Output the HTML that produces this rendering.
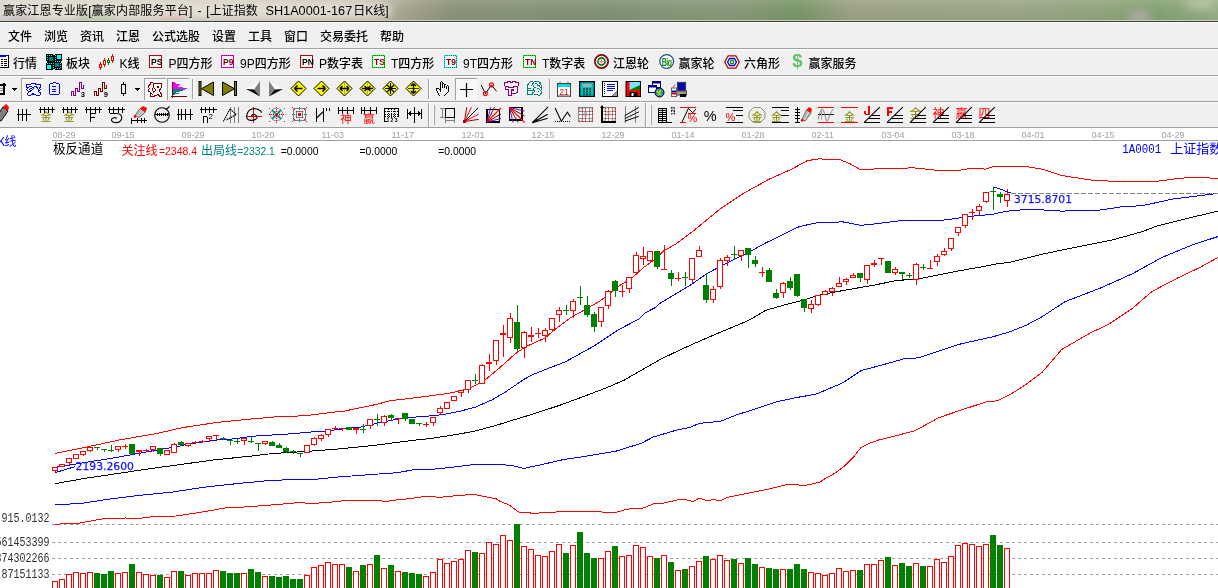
<!DOCTYPE html><html><head><meta charset="utf-8"><title>赢家江恩专业版</title><style>
*{margin:0;padding:0}html,body{width:1218px;height:588px;overflow:hidden;background:#fff}
svg{position:absolute;left:0;top:0;display:block}
text{font-family:"Liberation Sans","Noto Sans CJK SC",sans-serif;font-size:12px}
.ui{font-family:"Liberation Sans","Noto Sans CJK SC",sans-serif;font-size:12px;fill:#000;font-weight:500}
.ss{font-family:"Liberation Mono","Noto Sans CJK SC",monospace;font-size:12px}
.hn{font-family:"Liberation Sans",sans-serif;font-size:11.5px}
.dt{font-family:"Liberation Sans",sans-serif;font-size:9px;fill:#a0a0a0}
</style></head><body>
<svg width="1218" height="588" viewBox="0 0 1218 588">
<defs><linearGradient id="tg" x1="0" y1="0" x2="1218" y2="0" gradientUnits="userSpaceOnUse"><stop offset="0" stop-color="#dbd5c9"/><stop offset="0.2" stop-color="#d6cfc1"/><stop offset="0.3" stop-color="#cbc4b3"/><stop offset="0.335" stop-color="#a8a591"/><stop offset="0.37" stop-color="#8d957c"/><stop offset="0.5" stop-color="#829378"/><stop offset="0.56" stop-color="#869a7a"/><stop offset="0.6" stop-color="#8a9a7c"/><stop offset="0.655" stop-color="#7a9868"/><stop offset="0.7" stop-color="#9ea488"/><stop offset="0.83" stop-color="#9da88a"/><stop offset="0.9" stop-color="#93a880"/><stop offset="0.95" stop-color="#86a474"/><stop offset="1" stop-color="#98b088"/></linearGradient><linearGradient id="tv" x1="0" y1="0" x2="0" y2="20" gradientUnits="userSpaceOnUse"><stop offset="0" stop-color="#fff" stop-opacity="0.10"/><stop offset="1" stop-color="#000" stop-opacity="0.04"/></linearGradient><filter id="glow" x="-10%" y="-50%" width="120%" height="200%"><feGaussianBlur stdDeviation="3"/></filter><filter id="blob" x="-50%" y="-50%" width="200%" height="200%"><feGaussianBlur stdDeviation="4"/></filter></defs>
<rect x="0" y="0" width="1218" height="20" fill="url(#tg)"/>
<rect x="0" y="0" width="1218" height="20" fill="url(#tv)"/>
<rect x="0" y="3" width="392" height="15" rx="7" fill="#efebe3" opacity="0.6" filter="url(#glow)"/>
<g filter="url(#blob)" opacity="0.55"><ellipse cx="20" cy="19" rx="14" ry="3" fill="#a090c0"/><ellipse cx="95" cy="19" rx="22" ry="3" fill="#70b070"/><ellipse cx="172" cy="19" rx="14" ry="3" fill="#e09090"/><ellipse cx="1140" cy="17" rx="12" ry="5" fill="#e0b8e0"/><ellipse cx="1200" cy="4" rx="16" ry="5" fill="#d0dcc0"/></g>
<rect x="0" y="20" width="1218" height="1" fill="#c6d0bc"/>
<rect x="0" y="21" width="1218" height="1" fill="#3c4438"/>
<rect x="0" y="22" width="1218" height="1" fill="#ffffff"/>
<text class="ui" y="15" fill="#000" style="font-weight:400"><tspan x="3" textLength="189.4" lengthAdjust="spacing">赢家江恩专业版[赢家内部服务平台]</tspan><tspan x="197.4">-</tspan><tspan x="206.3">[上证指数</tspan><tspan x="265.5" textLength="86.7" lengthAdjust="spacingAndGlyphs">SH1A0001-167</tspan><tspan x="353.2">日K线]</tspan></text>
<rect x="0" y="23" width="1218" height="105" fill="#f0f0f0"/>
<rect x="0" y="48" width="1218" height="1" fill="#a0a0a0"/>
<rect x="0" y="75" width="1218" height="1" fill="#a0a0a0"/>
<rect x="0" y="101" width="1218" height="1" fill="#a0a0a0"/>
<rect x="0" y="127" width="1218" height="1" fill="#a0a0a0"/>
<rect x="0" y="49" width="1218" height="1" fill="#ffffff"/>
<rect x="0" y="76" width="1218" height="1" fill="#ffffff"/>
<rect x="0" y="102" width="1218" height="1" fill="#ffffff"/>
<text class="ui" x="8" y="40.6">文件</text>
<text class="ui" x="44" y="40.6">浏览</text>
<text class="ui" x="80" y="40.6">资讯</text>
<text class="ui" x="116" y="40.6">江恩</text>
<text class="ui" x="152" y="40.6">公式选股</text>
<text class="ui" x="212" y="40.6">设置</text>
<text class="ui" x="248" y="40.6">工具</text>
<text class="ui" x="284" y="40.6">窗口</text>
<text class="ui" x="320" y="40.6">交易委托</text>
<text class="ui" x="380" y="40.6">帮助</text>
<text class="ui" x="13" y="67.8">行情</text>
<text class="ui" x="66" y="67.8">板块</text>
<text class="ui" x="119.5" y="67.8">K线</text>
<text class="ui" x="168.5" y="67.8">P四方形</text>
<text class="ui" x="240" y="67.8">9P四方形</text>
<text class="ui" x="319" y="67.8">P数字表</text>
<text class="ui" x="391" y="67.8">T四方形</text>
<text class="ui" x="463" y="67.8">9T四方形</text>
<text class="ui" x="542" y="67.8">T数字表</text>
<text class="ui" x="613" y="67.8">江恩轮</text>
<text class="ui" x="678.5" y="67.8">赢家轮</text>
<text class="ui" x="744" y="67.8">六角形</text>
<text class="ui" x="808.5" y="67.8">赢家服务</text>
<g shape-rendering="crispEdges"><rect x="-8" y="55" width="16" height="13" fill="#fff"/><rect x="-8" y="55" width="16" height="2" fill="#0000ff"/><rect x="6" y="56" width="2" height="1" fill="#fff"/><rect x="8" y="55" width="1" height="13" fill="#000"/><rect x="-8" y="67" width="17" height="1" fill="#000"/><rect x="1" y="59" width="2" height="1" fill="#000"/><rect x="4" y="59" width="3" height="1" fill="#000"/><rect x="1" y="61" width="2" height="1" fill="#000"/><rect x="4" y="61" width="3" height="1" fill="#000"/><rect x="1" y="63" width="2" height="1" fill="#000"/><rect x="4" y="63" width="3" height="1" fill="#000"/><rect x="1" y="65" width="2" height="1" fill="#000"/><rect x="4" y="65" width="3" height="1" fill="#000"/></g><g transform="translate(46,54)" shape-rendering="crispEdges"><rect x="0" y="0" width="16" height="16" fill="#000"/><rect x="7" y="0" width="2" height="1" fill="#f0f0f0"/><rect x="7" y="15" width="2" height="1" fill="#f0f0f0"/><rect x="0" y="7" width="1" height="2" fill="#f0f0f0"/><rect x="15" y="7" width="1" height="2" fill="#f0f0f0"/><path d="M1 1.5h6M1.5 1v6M9.5 1v7M9 7.5h6M1 9.5h7M7.5 9v6M14.5 9v6M9 14.5h6" stroke="#00ffff" stroke-width="1" stroke-dasharray="1 1" fill="none"/><rect x="3" y="3" width="4" height="4" fill="#008080"/><rect x="11" y="1" width="4" height="4" fill="#00ffff"/><rect x="1" y="11" width="4" height="4" fill="#00ffff"/><rect x="9" y="9" width="4" height="4" fill="#008080"/></g><g shape-rendering="crispEdges"><rect x="100" y="62" width="1" height="8" fill="#ff0000"/><rect x="99.5" y="64.5" width="2" height="3" fill="#fff" stroke="#ff0000" stroke-width="1"/><rect x="104" y="58" width="1" height="9" fill="#ff0000"/><rect x="103.5" y="60.5" width="2" height="4" fill="#fff" stroke="#ff0000" stroke-width="1"/><rect x="108" y="58" width="1" height="7" fill="#008000"/><rect x="107.5" y="60.5" width="2" height="2" fill="#fff" stroke="#008000" stroke-width="1"/><rect x="112" y="54" width="1" height="9" fill="#ff0000"/><rect x="111.5" y="56.5" width="2" height="4" fill="#fff" stroke="#ff0000" stroke-width="1"/></g><g shape-rendering="crispEdges"><rect x="149.5" y="55.5" width="12" height="12" fill="#f8f8f8" stroke="#ff0000" stroke-width="1"/><rect x="149.5" y="55.5" width="12" height="12" fill="none" stroke="#800000" stroke-width="1" stroke-dasharray="1 1"/></g><text x="151" y="65" style="font-family:'Liberation Sans',sans-serif;font-size:8.5px;font-weight:bold;letter-spacing:0.1px" fill="#000">PS</text><g shape-rendering="crispEdges"><rect x="221.5" y="55.5" width="12" height="12" fill="#f8f8f8" stroke="#ff00ff" stroke-width="1"/><rect x="221.5" y="55.5" width="12" height="12" fill="none" stroke="#800080" stroke-width="1" stroke-dasharray="1 1"/></g><text x="223" y="65" style="font-family:'Liberation Sans',sans-serif;font-size:8.5px;font-weight:bold;letter-spacing:0.1px" fill="#800000">P9</text><g shape-rendering="crispEdges"><rect x="300.5" y="55.5" width="12" height="12" fill="#f8f8f8" stroke="#ff0000" stroke-width="1"/><rect x="300.5" y="55.5" width="12" height="12" fill="none" stroke="#800000" stroke-width="1" stroke-dasharray="1 1"/></g><text x="302" y="65" style="font-family:'Liberation Sans',sans-serif;font-size:8.5px;font-weight:bold;letter-spacing:0.1px" fill="#000">PN</text><g shape-rendering="crispEdges"><rect x="372.5" y="55.5" width="12" height="12" fill="#f8f8f8" stroke="#00ff00" stroke-width="1"/><rect x="372.5" y="55.5" width="12" height="12" fill="none" stroke="#008000" stroke-width="1" stroke-dasharray="1 1"/></g><text x="374" y="65" style="font-family:'Liberation Sans',sans-serif;font-size:8.5px;font-weight:bold;letter-spacing:0.1px" fill="#800000">TS</text><g shape-rendering="crispEdges"><rect x="444.5" y="55.5" width="12" height="12" fill="#f8f8f8" stroke="#00ffff" stroke-width="1"/><rect x="444.5" y="55.5" width="12" height="12" fill="none" stroke="#008080" stroke-width="1" stroke-dasharray="1 1"/></g><text x="446" y="65" style="font-family:'Liberation Sans',sans-serif;font-size:8.5px;font-weight:bold;letter-spacing:0.1px" fill="#800000">T9</text><g shape-rendering="crispEdges"><rect x="523.5" y="55.5" width="12" height="12" fill="#f8f8f8" stroke="#00ff00" stroke-width="1"/><rect x="523.5" y="55.5" width="12" height="12" fill="none" stroke="#008000" stroke-width="1" stroke-dasharray="1 1"/></g><text x="525" y="65" style="font-family:'Liberation Sans',sans-serif;font-size:8.5px;font-weight:bold;letter-spacing:0.1px" fill="#800000">TN</text><g transform="translate(594,54)"><circle cx="7.5" cy="7.5" r="6.6" fill="#fff" stroke="#800000" stroke-width="1.8"/><circle cx="7.5" cy="7.5" r="3.6" fill="#fff" stroke="#006000" stroke-width="1.6"/><path d="M1 7.5h13M7.5 1v13" stroke="#909090" stroke-width="0.8"/><circle cx="7.5" cy="7.5" r="1.2" fill="#ff8060"/></g><g transform="translate(659,54)"><circle cx="7.7" cy="7.5" r="6.9" fill="#fff" stroke="#1a4a80" stroke-width="1.2"/><text x="7.7" y="11.5" text-anchor="middle" fill="#1a8a1a" style="font-family:'Liberation Sans',sans-serif;font-size:10px;font-weight:bold;letter-spacing:-0.6px" textLength="10" lengthAdjust="spacingAndGlyphs">Big</text></g><g transform="translate(724,55)"><polygon points="0.8,7 4.2,0.8 11.8,0.8 15.2,7 11.8,13.2 4.2,13.2" fill="#fff" stroke="#b00000" stroke-width="1.3"/><polygon points="3.6,7 5.6,3.5 10.4,3.5 12.4,7 10.4,10.5 5.6,10.5" fill="#fff" stroke="#0000c0" stroke-width="1.3"/><circle cx="8" cy="7" r="1.7" fill="#fff" stroke="#008000" stroke-width="1.2"/></g><g transform="translate(791,54)"><text x="6.3" y="13.2" text-anchor="middle" fill="#66c066" style="font-family:'Liberation Sans',sans-serif;font-size:18.5px;font-weight:bold">$</text></g>
<rect x="21" y="78" width="22" height="22" fill="#f8f8f8"/><rect x="21" y="78" width="1" height="22" fill="#a0a0a0"/><rect x="21" y="78" width="22" height="1" fill="#a0a0a0"/><rect x="144" y="78" width="22" height="22" fill="#f8f8f8"/><rect x="144" y="78" width="1" height="22" fill="#a0a0a0"/><rect x="144" y="78" width="22" height="1" fill="#a0a0a0"/><rect x="167" y="78" width="22" height="22" fill="#f8f8f8"/><rect x="167" y="78" width="1" height="22" fill="#a0a0a0"/><rect x="167" y="78" width="22" height="1" fill="#a0a0a0"/><rect x="455" y="78" width="22" height="22" fill="#f8f8f8"/><rect x="455" y="78" width="1" height="22" fill="#a0a0a0"/><rect x="455" y="78" width="22" height="1" fill="#a0a0a0"/><rect x="192" y="79" width="1" height="20" fill="#a0a0a0"/><rect x="193" y="79" width="1" height="20" fill="#fff"/><rect x="428" y="79" width="1" height="20" fill="#a0a0a0"/><rect x="429" y="79" width="1" height="20" fill="#fff"/><rect x="549" y="79" width="1" height="20" fill="#a0a0a0"/><rect x="550" y="79" width="1" height="20" fill="#fff"/><g shape-rendering="crispEdges"><rect x="3" y="83" width="2" height="1" fill="#000"/><rect x="0" y="84" width="6" height="1" fill="#000"/><rect x="0" y="85" width="6" height="1" fill="#000"/><rect x="3" y="86" width="2" height="1" fill="#000"/><rect x="3" y="87" width="2" height="1" fill="#000"/><rect x="3" y="88" width="2" height="1" fill="#000"/><rect x="3" y="89" width="2" height="1" fill="#000"/><rect x="3" y="90" width="2" height="1" fill="#000"/><rect x="3" y="91" width="2" height="1" fill="#000"/><rect x="3" y="92" width="2" height="1" fill="#000"/><rect x="0" y="93" width="5" height="1" fill="#000"/><rect x="0" y="94" width="5" height="1" fill="#000"/></g><g shape-rendering="crispEdges"></g><g shape-rendering="crispEdges"><rect x="0" y="88" width="3" height="1" fill="#909090"/><rect x="0" y="90" width="3" height="1" fill="#909090"/></g><g shape-rendering="crispEdges"><rect x="12" y="88" width="5" height="1" fill="#000"/><rect x="13" y="89" width="3" height="1" fill="#000"/><rect x="14" y="90" width="1" height="1" fill="#000"/></g><g shape-rendering="crispEdges"><rect x="135" y="88" width="5" height="1" fill="#000"/><rect x="136" y="89" width="3" height="1" fill="#000"/><rect x="137" y="90" width="1" height="1" fill="#000"/></g><g shape-rendering="crispEdges"><rect x="31" y="83" width="5" height="1" fill="#0000ff"/><rect x="26" y="84" width="5" height="1" fill="#0000ff"/><rect x="35" y="84" width="6" height="1" fill="#0000ff"/><rect x="26" y="85" width="1" height="1" fill="#0000ff"/><rect x="40" y="85" width="1" height="1" fill="#0000ff"/><rect x="26" y="86" width="1" height="1" fill="#0000ff"/><rect x="29" y="86" width="3" height="1" fill="#0000ff"/><rect x="34" y="86" width="3" height="1" fill="#0000ff"/><rect x="40" y="86" width="1" height="1" fill="#0000ff"/><rect x="26" y="87" width="3" height="1" fill="#0000ff"/><rect x="32" y="87" width="2" height="1" fill="#0000ff"/><rect x="36" y="87" width="2" height="1" fill="#0000ff"/><rect x="39" y="87" width="2" height="1" fill="#0000ff"/><rect x="27" y="88" width="1" height="1" fill="#0000ff"/><rect x="30" y="88" width="2" height="1" fill="#0000ff"/><rect x="33" y="88" width="1" height="1" fill="#0000ff"/><rect x="37" y="88" width="1" height="1" fill="#0000ff"/><rect x="39" y="88" width="1" height="1" fill="#0000ff"/><rect x="26" y="89" width="1" height="1" fill="#0000ff"/><rect x="29" y="89" width="1" height="1" fill="#0000ff"/><rect x="32" y="89" width="1" height="1" fill="#0000ff"/><rect x="38" y="89" width="1" height="1" fill="#0000ff"/><rect x="40" y="89" width="1" height="1" fill="#0000ff"/><rect x="27" y="90" width="1" height="1" fill="#0000ff"/><rect x="30" y="90" width="2" height="1" fill="#0000ff"/><rect x="38" y="90" width="2" height="1" fill="#0000ff"/><rect x="28" y="91" width="3" height="1" fill="#0000ff"/><rect x="38" y="91" width="1" height="1" fill="#0000ff"/><rect x="28" y="92" width="1" height="1" fill="#0000ff"/><rect x="39" y="92" width="2" height="1" fill="#0000ff"/><rect x="27" y="93" width="1" height="1" fill="#0000ff"/><rect x="32" y="93" width="2" height="1" fill="#0000ff"/><rect x="40" y="93" width="1" height="1" fill="#0000ff"/><rect x="27" y="94" width="1" height="1" fill="#0000ff"/><rect x="31" y="94" width="5" height="1" fill="#0000ff"/><rect x="40" y="94" width="1" height="1" fill="#0000ff"/><rect x="28" y="95" width="3" height="1" fill="#0000ff"/><rect x="36" y="95" width="4" height="1" fill="#0000ff"/></g><g shape-rendering="crispEdges"><rect x="53" y="82" width="3" height="1" fill="#0000ff"/><rect x="50" y="83" width="3" height="1" fill="#0000ff"/><rect x="56" y="83" width="3" height="1" fill="#0000ff"/><rect x="49" y="84" width="1" height="1" fill="#0000ff"/><rect x="59" y="84" width="1" height="1" fill="#0000ff"/><rect x="49" y="85" width="1" height="1" fill="#0000ff"/><rect x="59" y="85" width="1" height="1" fill="#0000ff"/><rect x="49" y="86" width="1" height="1" fill="#0000ff"/><rect x="52" y="86" width="4" height="1" fill="#0000ff"/><rect x="59" y="86" width="1" height="1" fill="#0000ff"/><rect x="49" y="87" width="1" height="1" fill="#0000ff"/><rect x="59" y="87" width="1" height="1" fill="#0000ff"/><rect x="49" y="88" width="1" height="1" fill="#0000ff"/><rect x="59" y="88" width="1" height="1" fill="#0000ff"/><rect x="49" y="89" width="1" height="1" fill="#0000ff"/><rect x="52" y="89" width="4" height="1" fill="#0000ff"/><rect x="59" y="89" width="1" height="1" fill="#0000ff"/><rect x="49" y="90" width="1" height="1" fill="#0000ff"/><rect x="59" y="90" width="1" height="1" fill="#0000ff"/><rect x="49" y="91" width="1" height="1" fill="#0000ff"/><rect x="52" y="91" width="4" height="1" fill="#0000ff"/><rect x="59" y="91" width="1" height="1" fill="#0000ff"/><rect x="49" y="92" width="1" height="1" fill="#0000ff"/><rect x="59" y="92" width="1" height="1" fill="#0000ff"/><rect x="49" y="93" width="1" height="1" fill="#0000ff"/><rect x="59" y="93" width="1" height="1" fill="#0000ff"/><rect x="50" y="94" width="9" height="1" fill="#0000ff"/></g><g transform="translate(71,81)"><path d="M0.5,15V10.5H2.5V14H4.5V7.5H6.5V10.5H8.5V1.5H10.5V7.5H12.5V3.5" fill="none" stroke="#800080" stroke-width="1" shape-rendering="crispEdges"/><text x="9.8" y="16" style="font-family:'Liberation Sans',sans-serif;font-size:7.5px;font-weight:bold" fill="#000">3</text></g><g transform="translate(94,81)"><path d="M0.5,15V10.5H2.5V14H4.5V7.5H6.5V10.5H8.5V1.5H10.5V7.5H12.5V3.5" fill="none" stroke="#800000" stroke-width="1" shape-rendering="crispEdges"/><text x="9.8" y="16" style="font-family:'Liberation Sans',sans-serif;font-size:7.5px;font-weight:bold" fill="#000">9</text></g><g shape-rendering="crispEdges"><rect x="123" y="82" width="1" height="1" fill="#000"/><rect x="123" y="83" width="1" height="1" fill="#000"/><rect x="121" y="84" width="5" height="1" fill="#000"/><rect x="121" y="85" width="1" height="1" fill="#000"/><rect x="125" y="85" width="1" height="1" fill="#000"/><rect x="121" y="86" width="1" height="1" fill="#000"/><rect x="125" y="86" width="1" height="1" fill="#000"/><rect x="121" y="87" width="1" height="1" fill="#000"/><rect x="125" y="87" width="1" height="1" fill="#000"/><rect x="121" y="88" width="1" height="1" fill="#000"/><rect x="125" y="88" width="1" height="1" fill="#000"/><rect x="121" y="89" width="1" height="1" fill="#000"/><rect x="125" y="89" width="1" height="1" fill="#000"/><rect x="121" y="90" width="1" height="1" fill="#000"/><rect x="125" y="90" width="1" height="1" fill="#000"/><rect x="121" y="91" width="1" height="1" fill="#000"/><rect x="125" y="91" width="1" height="1" fill="#000"/><rect x="121" y="92" width="1" height="1" fill="#000"/><rect x="125" y="92" width="1" height="1" fill="#000"/><rect x="121" y="93" width="5" height="1" fill="#000"/><rect x="123" y="94" width="1" height="1" fill="#000"/><rect x="123" y="95" width="1" height="1" fill="#000"/></g><g shape-rendering="crispEdges"><rect x="150" y="82" width="3" height="1" fill="#800000"/><rect x="150" y="83" width="1" height="1" fill="#800000"/><rect x="153" y="83" width="9" height="1" fill="#800000"/><rect x="149" y="84" width="2" height="1" fill="#800000"/><rect x="153" y="84" width="1" height="1" fill="#800000"/><rect x="161" y="84" width="1" height="1" fill="#800000"/><rect x="148" y="85" width="2" height="1" fill="#800000"/><rect x="153" y="85" width="1" height="1" fill="#800000"/><rect x="161" y="85" width="1" height="1" fill="#800000"/><rect x="148" y="86" width="1" height="1" fill="#800000"/><rect x="153" y="86" width="1" height="1" fill="#800000"/><rect x="157" y="86" width="2" height="1" fill="#800000"/><rect x="161" y="86" width="1" height="1" fill="#800000"/><rect x="148" y="87" width="1" height="1" fill="#800000"/><rect x="153" y="87" width="1" height="1" fill="#800000"/><rect x="157" y="87" width="2" height="1" fill="#800000"/><rect x="161" y="87" width="1" height="1" fill="#800000"/><rect x="149" y="88" width="1" height="1" fill="#800000"/><rect x="152" y="88" width="1" height="1" fill="#800000"/><rect x="154" y="88" width="1" height="1" fill="#800000"/><rect x="160" y="88" width="1" height="1" fill="#800000"/><rect x="148" y="89" width="1" height="1" fill="#800000"/><rect x="152" y="89" width="1" height="1" fill="#800000"/><rect x="155" y="89" width="1" height="1" fill="#800000"/><rect x="159" y="89" width="2" height="1" fill="#800000"/><rect x="148" y="90" width="1" height="1" fill="#800000"/><rect x="152" y="90" width="1" height="1" fill="#800000"/><rect x="155" y="90" width="1" height="1" fill="#800000"/><rect x="159" y="90" width="1" height="1" fill="#800000"/><rect x="148" y="91" width="2" height="1" fill="#800000"/><rect x="153" y="91" width="2" height="1" fill="#800000"/><rect x="159" y="91" width="1" height="1" fill="#800000"/><rect x="150" y="92" width="1" height="1" fill="#800000"/><rect x="153" y="92" width="1" height="1" fill="#800000"/><rect x="160" y="92" width="1" height="1" fill="#800000"/><rect x="150" y="93" width="2" height="1" fill="#800000"/><rect x="160" y="93" width="2" height="1" fill="#800000"/><rect x="150" y="94" width="1" height="1" fill="#800000"/><rect x="152" y="94" width="1" height="1" fill="#800000"/><rect x="157" y="94" width="2" height="1" fill="#800000"/><rect x="161" y="94" width="1" height="1" fill="#800000"/><rect x="150" y="95" width="1" height="1" fill="#800000"/><rect x="154" y="95" width="3" height="1" fill="#800000"/><rect x="158" y="95" width="2" height="1" fill="#800000"/><rect x="161" y="95" width="1" height="1" fill="#800000"/><rect x="150" y="96" width="5" height="1" fill="#800000"/><rect x="159" y="96" width="3" height="1" fill="#800000"/></g><g shape-rendering="crispEdges"><rect x="172" y="82" width="1" height="1" fill="#800000"/><rect x="172" y="83" width="1" height="1" fill="#800000"/><rect x="172" y="84" width="1" height="1" fill="#800000"/><rect x="172" y="85" width="1" height="1" fill="#800000"/><rect x="172" y="86" width="1" height="1" fill="#800000"/><rect x="172" y="87" width="1" height="1" fill="#800000"/><rect x="172" y="88" width="1" height="1" fill="#800000"/><rect x="172" y="89" width="1" height="1" fill="#800000"/><rect x="172" y="90" width="1" height="1" fill="#800000"/><rect x="172" y="91" width="1" height="1" fill="#800000"/><rect x="172" y="92" width="1" height="1" fill="#800000"/><rect x="172" y="93" width="1" height="1" fill="#800000"/><rect x="172" y="94" width="1" height="1" fill="#800000"/><rect x="172" y="95" width="1" height="1" fill="#800000"/><rect x="172" y="96" width="1" height="1" fill="#800000"/><rect x="172" y="97" width="1" height="1" fill="#800000"/></g><g shape-rendering="crispEdges"><rect x="171" y="96" width="16" height="1" fill="#800000"/></g><g shape-rendering="crispEdges"><rect x="173" y="82" width="2" height="1" fill="#ff00ff"/><rect x="173" y="83" width="3" height="1" fill="#ff00ff"/><rect x="173" y="84" width="7" height="1" fill="#ff00ff"/><rect x="173" y="85" width="6" height="1" fill="#ff00ff"/><rect x="173" y="86" width="5" height="1" fill="#ff00ff"/><rect x="173" y="87" width="10" height="1" fill="#ff00ff"/><rect x="173" y="88" width="14" height="1" fill="#ff00ff"/><rect x="173" y="89" width="12" height="1" fill="#008080"/><rect x="173" y="90" width="10" height="1" fill="#008080"/><rect x="173" y="91" width="7" height="1" fill="#008080"/><rect x="173" y="92" width="3" height="1" fill="#008080"/><rect x="173" y="93" width="6" height="1" fill="#008080"/><rect x="173" y="94" width="2" height="1" fill="#008080"/></g><g transform="translate(198.5,81)"><rect x="0.5" y="0.5" width="2" height="14" fill="#808000" stroke="#000" stroke-width="1"/><polygon points="15,1 15,14.5 3,7.7" fill="#808000" stroke="#000" stroke-width="1"/></g><g transform="translate(222,81)"><polygon points="0.5,1 0.5,14.5 12.5,7.7" fill="#808000" stroke="#000" stroke-width="1"/><rect x="12.5" y="0.5" width="2" height="14" fill="#808000" stroke="#000" stroke-width="1"/></g><polygon points="246,89 260,81 254,89.5" fill="#fafafa"/><polygon points="260,81 260,96.5 254,89.5" fill="#808080"/><polygon points="246,89 254,89.5 260,96.5" fill="#000"/><polygon points="269,81 283,89 275,89.5" fill="#fafafa"/><polygon points="269,81 275,89.5 269,96.5" fill="#808080"/><polygon points="275,89.5 283,89 269,96.5" fill="#000"/><g transform="translate(290.5,80.5)"><polygon points="8,0.5 15.5,8 8,15.5 0.5,8" fill="#ffff00" stroke="#000" stroke-width="1"/><path d="M4 8h8M4 8l3-3M4 8l3 3" stroke="#000" stroke-width="1.6" fill="none"/></g><g transform="translate(313.5,80.5)"><polygon points="8,0.5 15.5,8 8,15.5 0.5,8" fill="#ffff00" stroke="#000" stroke-width="1"/><path d="M4 8h8M12 8l-3-3M12 8l-3 3" stroke="#000" stroke-width="1.6" fill="none"/></g><g transform="translate(336.5,80.5)"><polygon points="8,0.5 15.5,8 8,15.5 0.5,8" fill="#ffff00" stroke="#000" stroke-width="1"/><path d="M8 2v12" stroke="#909090" stroke-width="0.8"/><path d="M3.5 8h9M3.5 8l2.5-2.5M3.5 8l2.5 2.5M12.5 8l-2.5-2.5M12.5 8l-2.5 2.5" stroke="#000" stroke-width="1.4" fill="none"/></g><g transform="translate(359.5,80.5)"><polygon points="8,0.5 15.5,8 8,15.5 0.5,8" fill="#ffff00" stroke="#000" stroke-width="1"/><path d="M8 2v12" stroke="#909090" stroke-width="0.8"/><path d="M2.5 8h11M8 8l-3-2.5M8 8l-3 2.5M8 8l3-2.5M8 8l3 2.5" stroke="#000" stroke-width="1.4" fill="none"/></g><g transform="translate(382.5,80.5)"><polygon points="8,0.5 15.5,8 8,15.5 0.5,8" fill="#ffff00" stroke="#000" stroke-width="1"/><path d="M2.5 8h11M8 2.5v11M4.5 4.5l7 7M11.5 4.5l-7 7" stroke="#000" stroke-width="1.2" fill="none"/></g><g transform="translate(405.5,80.5)"><polygon points="8,0.5 15.5,8 8,15.5 0.5,8" fill="#ffff00" stroke="#000" stroke-width="1"/><path d="M2.5 8h11" stroke="#000" stroke-width="0.8"/><path d="M8 3v10M8 3l-2.5 2.5M8 3l2.5 2.5M8 13l-2.5-2.5M8 13l2.5-2.5" stroke="#000" stroke-width="1.4" fill="none"/></g><g shape-rendering="crispEdges"><rect x="441" y="81" width="1" height="1" fill="#000"/><rect x="440" y="82" width="1" height="1" fill="#000"/><rect x="442" y="82" width="1" height="1" fill="#000"/><rect x="440" y="83" width="1" height="1" fill="#000"/><rect x="442" y="83" width="2" height="1" fill="#000"/><rect x="440" y="84" width="1" height="1" fill="#000"/><rect x="442" y="84" width="1" height="1" fill="#000"/><rect x="444" y="84" width="2" height="1" fill="#000"/><rect x="440" y="85" width="1" height="1" fill="#000"/><rect x="442" y="85" width="1" height="1" fill="#000"/><rect x="444" y="85" width="1" height="1" fill="#000"/><rect x="447" y="85" width="1" height="1" fill="#000"/><rect x="440" y="86" width="1" height="1" fill="#000"/><rect x="442" y="86" width="1" height="1" fill="#000"/><rect x="444" y="86" width="1" height="1" fill="#000"/><rect x="446" y="86" width="1" height="1" fill="#000"/><rect x="448" y="86" width="1" height="1" fill="#000"/><rect x="440" y="87" width="1" height="1" fill="#000"/><rect x="442" y="87" width="1" height="1" fill="#000"/><rect x="444" y="87" width="1" height="1" fill="#000"/><rect x="446" y="87" width="1" height="1" fill="#000"/><rect x="448" y="87" width="1" height="1" fill="#000"/><rect x="436" y="88" width="3" height="1" fill="#000"/><rect x="440" y="88" width="1" height="1" fill="#000"/><rect x="446" y="88" width="1" height="1" fill="#000"/><rect x="448" y="88" width="1" height="1" fill="#000"/><rect x="436" y="89" width="1" height="1" fill="#000"/><rect x="439" y="89" width="2" height="1" fill="#000"/><rect x="448" y="89" width="1" height="1" fill="#000"/><rect x="436" y="90" width="1" height="1" fill="#000"/><rect x="440" y="90" width="1" height="1" fill="#000"/><rect x="448" y="90" width="1" height="1" fill="#000"/><rect x="437" y="91" width="1" height="1" fill="#000"/><rect x="440" y="91" width="1" height="1" fill="#000"/><rect x="448" y="91" width="1" height="1" fill="#000"/><rect x="437" y="92" width="1" height="1" fill="#000"/><rect x="447" y="92" width="1" height="1" fill="#000"/><rect x="438" y="93" width="1" height="1" fill="#000"/><rect x="446" y="93" width="1" height="1" fill="#000"/><rect x="438" y="94" width="1" height="1" fill="#000"/><rect x="445" y="94" width="1" height="1" fill="#000"/><rect x="439" y="95" width="1" height="1" fill="#000"/><rect x="444" y="95" width="1" height="1" fill="#000"/></g><path d="M460 89.5h13M466.5 83v14" stroke="#000" stroke-width="1.2"/><path d="M481.2 85.1L485.4 93.6L491.5 84.9L496.5 91.3" fill="none" stroke="#000" stroke-width="1"/><circle cx="485.4" cy="93.6" r="2" fill="none" stroke="#ff0000" stroke-width="1.1"/><circle cx="491.5" cy="84.9" r="2" fill="none" stroke="#ff0000" stroke-width="1.1"/><g shape-rendering="crispEdges"><rect x="507" y="81" width="4" height="1" fill="#800080"/><rect x="512" y="81" width="4" height="1" fill="#800080"/><rect x="504" y="82" width="4" height="1" fill="#800080"/><rect x="510" y="82" width="3" height="1" fill="#800080"/><rect x="515" y="82" width="4" height="1" fill="#800080"/><rect x="504" y="83" width="1" height="1" fill="#800080"/><rect x="518" y="83" width="1" height="1" fill="#800080"/><rect x="504" y="84" width="1" height="1" fill="#800080"/><rect x="518" y="84" width="1" height="1" fill="#800080"/><rect x="504" y="85" width="1" height="1" fill="#800080"/><rect x="518" y="85" width="1" height="1" fill="#800080"/><rect x="505" y="86" width="4" height="1" fill="#800080"/><rect x="513" y="86" width="5" height="1" fill="#800080"/><rect x="505" y="87" width="1" height="1" fill="#800080"/><rect x="508" y="87" width="6" height="1" fill="#800080"/><rect x="517" y="87" width="1" height="1" fill="#800080"/><rect x="505" y="88" width="1" height="1" fill="#800080"/><rect x="517" y="88" width="1" height="1" fill="#800080"/><rect x="505" y="89" width="4" height="1" fill="#800080"/><rect x="511" y="89" width="3" height="1" fill="#800080"/><rect x="517" y="89" width="1" height="1" fill="#800080"/><rect x="508" y="90" width="1" height="1" fill="#800080"/><rect x="511" y="90" width="3" height="1" fill="#800080"/><rect x="517" y="90" width="1" height="1" fill="#800080"/><rect x="508" y="91" width="1" height="1" fill="#800080"/><rect x="511" y="91" width="1" height="1" fill="#800080"/><rect x="517" y="91" width="1" height="1" fill="#800080"/><rect x="508" y="92" width="1" height="1" fill="#800080"/><rect x="511" y="92" width="1" height="1" fill="#800080"/><rect x="516" y="92" width="2" height="1" fill="#800080"/><rect x="508" y="93" width="1" height="1" fill="#800080"/><rect x="511" y="93" width="5" height="1" fill="#800080"/><rect x="508" y="94" width="1" height="1" fill="#800080"/><rect x="511" y="94" width="1" height="1" fill="#800080"/><rect x="508" y="95" width="4" height="1" fill="#800080"/></g><g shape-rendering="crispEdges"><rect x="530" y="81" width="3" height="1" fill="#008080"/><rect x="534" y="81" width="5" height="1" fill="#008080"/><rect x="529" y="82" width="1" height="1" fill="#008080"/><rect x="533" y="82" width="1" height="1" fill="#008080"/><rect x="539" y="82" width="2" height="1" fill="#008080"/><rect x="528" y="83" width="1" height="1" fill="#008080"/><rect x="532" y="83" width="2" height="1" fill="#008080"/><rect x="535" y="83" width="2" height="1" fill="#008080"/><rect x="539" y="83" width="2" height="1" fill="#008080"/><rect x="527" y="84" width="2" height="1" fill="#008080"/><rect x="532" y="84" width="1" height="1" fill="#008080"/><rect x="537" y="84" width="1" height="1" fill="#008080"/><rect x="540" y="84" width="1" height="1" fill="#008080"/><rect x="527" y="85" width="1" height="1" fill="#008080"/><rect x="531" y="85" width="1" height="1" fill="#008080"/><rect x="533" y="85" width="1" height="1" fill="#008080"/><rect x="537" y="85" width="3" height="1" fill="#008080"/><rect x="541" y="85" width="1" height="1" fill="#008080"/><rect x="527" y="86" width="1" height="1" fill="#008080"/><rect x="533" y="86" width="1" height="1" fill="#008080"/><rect x="539" y="86" width="1" height="1" fill="#008080"/><rect x="541" y="86" width="1" height="1" fill="#008080"/><rect x="527" y="87" width="1" height="1" fill="#008080"/><rect x="534" y="87" width="2" height="1" fill="#008080"/><rect x="540" y="87" width="2" height="1" fill="#008080"/><rect x="527" y="88" width="4" height="1" fill="#008080"/><rect x="533" y="88" width="1" height="1" fill="#008080"/><rect x="537" y="88" width="2" height="1" fill="#008080"/><rect x="541" y="88" width="1" height="1" fill="#008080"/><rect x="527" y="89" width="1" height="1" fill="#008080"/><rect x="533" y="89" width="1" height="1" fill="#008080"/><rect x="539" y="89" width="1" height="1" fill="#008080"/><rect x="541" y="89" width="1" height="1" fill="#008080"/><rect x="527" y="90" width="8" height="1" fill="#008080"/><rect x="540" y="90" width="1" height="1" fill="#008080"/><rect x="527" y="91" width="1" height="1" fill="#008080"/><rect x="534" y="91" width="1" height="1" fill="#008080"/><rect x="538" y="91" width="1" height="1" fill="#008080"/><rect x="541" y="91" width="1" height="1" fill="#008080"/><rect x="527" y="92" width="1" height="1" fill="#008080"/><rect x="532" y="92" width="2" height="1" fill="#008080"/><rect x="541" y="92" width="1" height="1" fill="#008080"/><rect x="527" y="93" width="1" height="1" fill="#008080"/><rect x="532" y="93" width="1" height="1" fill="#008080"/><rect x="540" y="93" width="2" height="1" fill="#008080"/><rect x="527" y="94" width="6" height="1" fill="#008080"/><rect x="534" y="94" width="4" height="1" fill="#008080"/><rect x="540" y="94" width="1" height="1" fill="#008080"/><rect x="538" y="95" width="2" height="1" fill="#008080"/></g><g transform="translate(557,81)"><rect x="0.5" y="2.5" width="13" height="13" fill="#fff" stroke="#404040" stroke-width="1"/><rect x="1" y="3" width="12" height="3" fill="#00e0e0"/><rect x="1" y="14" width="12" height="1.5" fill="#a0a0a0"/><path d="M3 0.5v3M11 0.5v3" stroke="#606060" stroke-width="1"/><text x="7" y="13.5" text-anchor="middle" fill="#ff0000" style="font-family:'Liberation Sans',sans-serif;font-size:8.5px">21</text></g><g transform="translate(579,81)"><rect x="0.5" y="0.5" width="15" height="15" fill="#008080" stroke="#000" stroke-width="1"/><rect x="2" y="2" width="12" height="12" fill="#00c0c0"/><rect x="3.5" y="3" width="9" height="3" fill="#a0b0b0"/><path d="M4 8h2M7 8h2M10 8h2M4 10.5h2M7 10.5h2M10 10.5h2M4 13h2M7 13h2M10 13h2" stroke="#003030" stroke-width="1.6"/></g><g transform="translate(602,81)"><rect x="0.5" y="0.5" width="15" height="15" fill="#fff" stroke="#000" stroke-width="1"/><path d="M2.5 2v12" stroke="#000" stroke-width="1" stroke-dasharray="1 1"/><path d="M5 3.5h8M5 5.5h8M5 7.5h8M5 9.5h6" stroke="#0000ff" stroke-width="1"/><path d="M10 15.5l5.5-5.5" stroke="#000" stroke-width="1"/><polygon points="11,15 15,11 15,15" fill="#a0a0a0"/></g><g transform="translate(625.5,81)"><rect x="0.5" y="0.5" width="14.5" height="15" fill="#ff0000" stroke="#000" stroke-width="1"/><rect x="4" y="1" width="10.5" height="8" fill="#80e0ff"/><polygon points="4,9 14.5,4 14.5,9" fill="#008000"/><rect x="4" y="11" width="8" height="4.5" fill="#000"/><rect x="6" y="12" width="2" height="3" fill="#fff"/></g><g transform="translate(648,81)"><rect x="4.5" y="0.5" width="8" height="6" fill="#fff" stroke="#000080" stroke-width="1"/><rect x="5" y="1" width="7" height="1.5" fill="#000080"/><rect x="0.5" y="4.5" width="8" height="7" fill="#fff" stroke="#000080" stroke-width="1"/><rect x="1" y="5" width="7" height="1.5" fill="#000080"/><circle cx="11.5" cy="11.5" r="4.5" fill="#20a0a0" stroke="#000" stroke-width="1"/><path d="M9 10l2 2 2-3M10 14l3-1" stroke="#ffd000" stroke-width="1.3" fill="none"/></g><g transform="translate(671,81)"><rect x="6.5" y="1.5" width="8" height="8" fill="#0000c0" stroke="#404040" stroke-width="1.2"/><rect x="5.5" y="10" width="10" height="4" fill="#a0a080" stroke="#404040" stroke-width="1"/><rect x="9" y="13" width="6" height="3" fill="#000"/><rect x="0.5" y="7" width="5" height="8.5" fill="#fff" stroke="#606060" stroke-width="1"/><rect x="1" y="9.5" width="4" height="2" fill="#0000ff"/><rect x="1" y="11.5" width="4" height="2" fill="#ff0000"/><path d="M2 6.5l2-3" stroke="#606060" stroke-width="1"/></g>
<polygon points="-4,118 3,107 8,111 1,121" fill="#808080" stroke="#000" stroke-width="1"/><polygon points="3,107 6,104 9,107 8,111" fill="#ff0000"/><polygon points="-4,118 1,121 -1,122" fill="#ff0000"/><g shape-rendering="crispEdges"><rect x="17" y="114" width="14" height="1" fill="#000"/><rect x="18" y="109" width="1" height="12" fill="#000"/><rect x="22" y="109" width="1" height="12" fill="#000"/><rect x="26" y="109" width="1" height="12" fill="#000"/></g><g shape-rendering="crispEdges"><rect x="39" y="109" width="16" height="1" fill="#000"/><rect x="40" y="107" width="1" height="6" fill="#000"/><rect x="44" y="107" width="1" height="6" fill="#000"/><rect x="48" y="107" width="1" height="6" fill="#000"/><rect x="52" y="107" width="1" height="6" fill="#000"/></g><text x="46" y="121" text-anchor="middle" fill="#808000" style="font-family:'Noto Sans CJK SC',sans-serif;font-size:11px">金</text><g shape-rendering="crispEdges"><rect x="62" y="109" width="16" height="1" fill="#000"/><rect x="63" y="107" width="1" height="6" fill="#000"/><rect x="67" y="107" width="1" height="6" fill="#000"/><rect x="71" y="107" width="1" height="6" fill="#000"/><rect x="75" y="107" width="1" height="6" fill="#000"/></g><text x="69" y="121" text-anchor="middle" fill="#808000" style="font-family:'Noto Sans CJK SC',sans-serif;font-size:11px">金</text><g shape-rendering="crispEdges"><rect x="85" y="109" width="17" height="1" fill="#000"/><rect x="86" y="107" width="1" height="6" fill="#000"/><rect x="90" y="107" width="1" height="6" fill="#000"/><rect x="95" y="107" width="1" height="6" fill="#000"/><rect x="99" y="107" width="1" height="6" fill="#000"/></g><g shape-rendering="crispEdges"><rect x="90" y="113" width="1" height="9" fill="#000"/><rect x="90" y="113" width="6" height="1" fill="#000"/><rect x="90" y="117" width="5" height="1" fill="#000"/></g><g shape-rendering="crispEdges"><rect x="108" y="109" width="17" height="1" fill="#000"/><rect x="109" y="107" width="1" height="6" fill="#000"/><rect x="113" y="107" width="1" height="6" fill="#000"/><rect x="118" y="107" width="1" height="6" fill="#000"/><rect x="122" y="107" width="1" height="6" fill="#000"/></g><path d="M110 113.5h6.5c4 0 6 2.5 5 5.5s-3.5 4-7 3.5-4-3.5-1.5-4.5 3.5-0.5 3 1" fill="none" stroke="#000" stroke-width="1.1"/><polygon points="135,115.5 140,108.5 145.5,112 139,117.5" fill="#d8d8d0" stroke="#404040" stroke-width="0.8"/><path d="M137 115l4-5M139 116l4-5" stroke="#909090" stroke-width="0.8"/><polygon points="140,108.5 143,106 147,108 145.5,112" fill="#ff0000"/><circle cx="135" cy="116.5" r="1.4" fill="#ff0000"/><g shape-rendering="crispEdges"><rect x="131" y="118" width="1" height="6" fill="#000"/><rect x="131" y="120" width="16" height="1" fill="#000"/><rect x="137" y="118" width="1" height="5" fill="#000"/><rect x="141" y="118" width="1" height="5" fill="#000"/><rect x="144" y="118" width="1" height="5" fill="#000"/></g><circle cx="162" cy="115" r="7.3" fill="none" stroke="#000" stroke-width="1.1"/><line x1="166" y1="109.5" x2="169.5" y2="106.5" stroke="#000" stroke-width="1.1"/><g shape-rendering="crispEdges"><rect x="155" y="114" width="14" height="1" fill="#000"/><rect x="157" y="113" width="1" height="3" fill="#000"/><rect x="159" y="113" width="1" height="3" fill="#000"/><rect x="161" y="113" width="1" height="3" fill="#000"/><rect x="163" y="113" width="1" height="3" fill="#000"/><rect x="165" y="113" width="1" height="3" fill="#000"/><rect x="167" y="113" width="1" height="3" fill="#000"/></g><g shape-rendering="crispEdges"><rect x="177" y="114" width="16" height="1" fill="#000"/><rect x="178" y="109" width="1" height="11" fill="#000"/><rect x="181" y="109" width="1" height="11" fill="#000"/><rect x="185" y="109" width="1" height="11" fill="#000"/><rect x="190" y="109" width="1" height="11" fill="#000"/></g><g shape-rendering="crispEdges"><rect x="200" y="109" width="17" height="1" fill="#000"/><rect x="201" y="107" width="1" height="6" fill="#000"/><rect x="205" y="107" width="1" height="6" fill="#000"/><rect x="209" y="107" width="1" height="6" fill="#000"/><rect x="213" y="107" width="1" height="6" fill="#000"/></g><g shape-rendering="crispEdges"><rect x="203" y="116" width="1" height="7" fill="#000"/><rect x="204" y="116" width="3" height="1" fill="#000"/><rect x="207" y="117" width="1" height="6" fill="#000"/></g><text x="208.5" y="119" fill="#000" style="font-family:'Liberation Sans',sans-serif;font-size:8px">2</text><g shape-rendering="crispEdges"><rect x="230" y="107" width="1" height="16" fill="#808080"/><rect x="234" y="107" width="1" height="16" fill="#808080"/><rect x="238" y="107" width="1" height="16" fill="#808080"/></g><path d="M223.3 121.5L230 109L236.3 114.5L226 120" fill="none" stroke="#000" stroke-width="1.1" stroke-dasharray="1.5 0.6"/><g shape-rendering="crispEdges"><rect x="246" y="116" width="16" height="1" fill="#ff0000"/><rect x="253" y="107" width="1" height="16" fill="#ff0000"/></g><path d="M261.7 112.6C259 108 250 107 247.6 112.8S248 120.5 251.4 120.4 257.5 118.5 256.9 116.6 253 113.5 252 115 252.5 116.4 253 116.4" fill="none" stroke="#000" stroke-width="1.1"/><circle cx="276.5" cy="114.5" r="6.3" fill="none" stroke="#909090" stroke-width="1"/><circle cx="276.5" cy="114.5" r="3.5" fill="none" stroke="#909090" stroke-width="0.8"/><line x1="272" y1="110" x2="281" y2="119" stroke="#008080" stroke-width="1.6"/><line x1="281" y1="110" x2="272" y2="119" stroke="#008080" stroke-width="1.6"/><g shape-rendering="crispEdges"><rect x="269" y="114" width="1" height="1" fill="#ff0000"/><rect x="271" y="114" width="1" height="1" fill="#ff0000"/><rect x="273" y="114" width="1" height="1" fill="#ff0000"/><rect x="275" y="114" width="1" height="1" fill="#ff0000"/><rect x="276" y="114" width="1" height="1" fill="#ff0000"/><rect x="277" y="114" width="1" height="1" fill="#ff0000"/><rect x="279" y="114" width="1" height="1" fill="#ff0000"/><rect x="281" y="114" width="1" height="1" fill="#ff0000"/><rect x="283" y="114" width="1" height="1" fill="#ff0000"/><rect x="276" y="107" width="1" height="1" fill="#ff0000"/><rect x="276" y="109" width="1" height="1" fill="#ff0000"/><rect x="276" y="111" width="1" height="1" fill="#ff0000"/><rect x="276" y="113" width="1" height="1" fill="#ff0000"/><rect x="276" y="115" width="1" height="1" fill="#ff0000"/><rect x="276" y="116" width="1" height="1" fill="#ff0000"/><rect x="276" y="118" width="1" height="1" fill="#ff0000"/><rect x="276" y="120" width="1" height="1" fill="#ff0000"/><rect x="276" y="122" width="1" height="1" fill="#ff0000"/><rect x="269" y="108" width="1" height="1" fill="#008080"/><rect x="284" y="108" width="1" height="1" fill="#008080"/><rect x="269" y="121" width="1" height="1" fill="#008080"/><rect x="284" y="121" width="1" height="1" fill="#008080"/></g><g shape-rendering="crispEdges"><rect x="293.5" y="108.5" width="12" height="12" fill="none" stroke="#808080"/><rect x="296.5" y="111.5" width="6" height="6" fill="none" stroke="#808080"/><rect x="292" y="114" width="1" height="1" fill="#008080"/><rect x="294" y="114" width="1" height="1" fill="#008080"/><rect x="296" y="114" width="1" height="1" fill="#008080"/><rect x="302" y="114" width="1" height="1" fill="#008080"/><rect x="304" y="114" width="1" height="1" fill="#008080"/><rect x="306" y="114" width="1" height="1" fill="#008080"/><rect x="299" y="107" width="1" height="1" fill="#008080"/><rect x="299" y="109" width="1" height="1" fill="#008080"/><rect x="299" y="111" width="1" height="1" fill="#008080"/><rect x="299" y="117" width="1" height="1" fill="#008080"/><rect x="299" y="119" width="1" height="1" fill="#008080"/><rect x="299" y="121" width="1" height="1" fill="#008080"/><rect x="298" y="113" width="3" height="3" fill="#ff0000"/><rect x="292" y="107" width="1" height="1" fill="#ff0000"/><rect x="306" y="107" width="1" height="1" fill="#ff0000"/><rect x="292" y="121" width="1" height="1" fill="#ff0000"/><rect x="306" y="121" width="1" height="1" fill="#ff0000"/><rect x="294" y="109" width="1" height="1" fill="#ff0000"/><rect x="304" y="109" width="1" height="1" fill="#ff0000"/><rect x="294" y="119" width="1" height="1" fill="#ff0000"/><rect x="304" y="119" width="1" height="1" fill="#ff0000"/><rect x="296" y="111" width="1" height="1" fill="#ff0000"/><rect x="302" y="111" width="1" height="1" fill="#ff0000"/><rect x="296" y="117" width="1" height="1" fill="#ff0000"/><rect x="302" y="117" width="1" height="1" fill="#ff0000"/></g><g shape-rendering="crispEdges"><rect x="316" y="108" width="1" height="14" fill="#000"/><rect x="323" y="108" width="1" height="14" fill="#000"/><rect x="326" y="108" width="1" height="3" fill="#000"/><rect x="329" y="108" width="1" height="3" fill="#000"/></g><line x1="316.5" y1="118" x2="323.5" y2="111.5" stroke="#000" stroke-width="1.1"/><g shape-rendering="crispEdges"><rect x="338" y="110" width="16" height="1" fill="#000"/><rect x="338" y="107" width="1" height="7" fill="#000"/><rect x="342" y="107" width="1" height="7" fill="#000"/><rect x="347" y="107" width="1" height="7" fill="#000"/><rect x="353" y="107" width="1" height="7" fill="#000"/></g><text x="346" y="122.5" text-anchor="middle" fill="#ff0000" style="font-family:'Noto Sans CJK SC',sans-serif;font-size:11.5px">神</text><g shape-rendering="crispEdges"><rect x="361" y="110" width="16" height="1" fill="#000"/><rect x="361" y="107" width="1" height="7" fill="#000"/><rect x="364" y="107" width="1" height="7" fill="#000"/><rect x="370" y="107" width="1" height="7" fill="#000"/><rect x="376" y="107" width="1" height="7" fill="#000"/></g><text x="369" y="122.5" text-anchor="middle" fill="#ff0000" style="font-family:'Noto Sans CJK SC',sans-serif;font-size:11.5px">赢</text><g shape-rendering="crispEdges"><rect x="384" y="108" width="1" height="14" fill="#000"/><rect x="384" y="108" width="15" height="1" fill="#000"/><rect x="398" y="108" width="1" height="9" fill="#000"/><rect x="384" y="121" width="3" height="1" fill="#000"/><rect x="388" y="109" width="1" height="1" fill="#000"/><rect x="388" y="111" width="1" height="1" fill="#000"/><rect x="388" y="113" width="1" height="1" fill="#000"/><rect x="388" y="115" width="1" height="1" fill="#000"/><rect x="388" y="117" width="1" height="1" fill="#000"/><rect x="391" y="109" width="1" height="1" fill="#000"/><rect x="391" y="111" width="1" height="1" fill="#000"/><rect x="391" y="113" width="1" height="1" fill="#000"/><rect x="391" y="115" width="1" height="1" fill="#000"/><rect x="391" y="117" width="1" height="1" fill="#000"/><rect x="394" y="109" width="1" height="1" fill="#000"/><rect x="394" y="111" width="1" height="1" fill="#000"/><rect x="394" y="113" width="1" height="1" fill="#000"/><rect x="394" y="115" width="1" height="1" fill="#000"/><rect x="394" y="117" width="1" height="1" fill="#000"/><rect x="385" y="111" width="1" height="1" fill="#000"/><rect x="387" y="111" width="1" height="1" fill="#000"/><rect x="389" y="111" width="1" height="1" fill="#000"/><rect x="391" y="111" width="1" height="1" fill="#000"/><rect x="393" y="111" width="1" height="1" fill="#000"/><rect x="395" y="111" width="1" height="1" fill="#000"/><rect x="397" y="111" width="1" height="1" fill="#000"/><rect x="385" y="114" width="1" height="1" fill="#000"/><rect x="387" y="114" width="1" height="1" fill="#000"/><rect x="389" y="114" width="1" height="1" fill="#000"/><rect x="391" y="114" width="1" height="1" fill="#000"/><rect x="393" y="114" width="1" height="1" fill="#000"/><rect x="395" y="114" width="1" height="1" fill="#000"/><rect x="397" y="114" width="1" height="1" fill="#000"/><rect x="385" y="116" width="1" height="1" fill="#000"/><rect x="387" y="116" width="1" height="1" fill="#000"/><rect x="389" y="116" width="1" height="1" fill="#000"/><rect x="391" y="116" width="1" height="1" fill="#000"/><rect x="393" y="116" width="1" height="1" fill="#000"/><rect x="395" y="116" width="1" height="1" fill="#000"/><rect x="397" y="116" width="1" height="1" fill="#000"/></g><text x="392" y="122" text-anchor="middle" fill="#000" style="font-family:'Liberation Sans',sans-serif;font-size:5px;font-weight:bold">1 2 3</text><g shape-rendering="crispEdges"><rect x="407" y="109" width="1" height="10" fill="#000"/><rect x="421" y="109" width="1" height="10" fill="#000"/><rect x="414" y="107" width="1" height="16" fill="#000"/><rect x="408" y="113" width="13" height="1" fill="#000"/><rect x="409" y="112" width="1" height="3" fill="#000"/><rect x="410" y="111" width="1" height="5" fill="#000"/><rect x="419" y="112" width="1" height="3" fill="#000"/><rect x="418" y="111" width="1" height="5" fill="#000"/></g><g shape-rendering="crispEdges"><rect x="428" y="103" width="1" height="24" fill="#a0a0a0"/><rect x="429" y="103" width="1" height="24" fill="#fff"/><rect x="434" y="105" width="1" height="20" fill="#a0a0a0"/><rect x="433" y="105" width="1" height="20" fill="#fff"/><rect x="645" y="103" width="1" height="24" fill="#a0a0a0"/><rect x="646" y="103" width="1" height="24" fill="#fff"/><rect x="651" y="105" width="1" height="20" fill="#a0a0a0"/><rect x="650" y="105" width="1" height="20" fill="#fff"/></g><g shape-rendering="crispEdges"><rect x="445.5" y="108.5" width="9" height="9" fill="none" stroke="#000" stroke-width="1.4"/><rect x="442" y="108" width="1" height="10" fill="#808080"/><rect x="440" y="108" width="5" height="1" fill="#808080"/><rect x="440" y="117" width="5" height="1" fill="#808080"/><rect x="445" y="120" width="10" height="1" fill="#808080"/><rect x="445" y="118" width="1" height="5" fill="#808080"/><rect x="454" y="118" width="1" height="5" fill="#808080"/></g><line x1="464.5" y1="121.5" x2="466.7" y2="107.2" stroke="#a00000" stroke-width="1"/><line x1="464.5" y1="121.5" x2="471.5" y2="107.2" stroke="#ff0000" stroke-width="1"/><line x1="464.5" y1="121.5" x2="478" y2="107.9" stroke="#000" stroke-width="1"/><line x1="464.5" y1="121.5" x2="478.5" y2="114.2" stroke="#ff0000" stroke-width="1"/><line x1="464.5" y1="121.5" x2="478.5" y2="119.4" stroke="#a00000" stroke-width="1"/><rect x="463" y="120" width="3" height="3" fill="#c00000"/><g shape-rendering="crispEdges"><rect x="487" y="109.5" width="12.5" height="12.5" fill="none" stroke="#000" stroke-width="1.5"/></g><line x1="487" y1="122" x2="490.7" y2="107.2" stroke="#8000c0" stroke-width="1"/><line x1="487" y1="122" x2="494.5" y2="107.2" stroke="#800000" stroke-width="1"/><line x1="487" y1="122" x2="501" y2="114" stroke="#800000" stroke-width="1"/><line x1="487" y1="122" x2="501" y2="118.5" stroke="#8000c0" stroke-width="1"/><line x1="487" y1="122" x2="501" y2="107.9" stroke="#ff0000" stroke-width="1.2"/><g shape-rendering="crispEdges"><rect x="509.5" y="107.5" width="12.5" height="12.5" fill="none" stroke="#000" stroke-width="1.5"/></g><line x1="509.5" y1="107.5" x2="524.5" y2="111" stroke="#8000c0" stroke-width="1"/><line x1="509.5" y1="107.5" x2="524.5" y2="116" stroke="#800000" stroke-width="1"/><line x1="509.5" y1="107.5" x2="518" y2="122.5" stroke="#800000" stroke-width="1"/><line x1="509.5" y1="107.5" x2="513" y2="122.5" stroke="#8000c0" stroke-width="1"/><line x1="509.5" y1="107.5" x2="524.7" y2="122.7" stroke="#ff0000" stroke-width="1.2"/><line x1="532.4" y1="122.7" x2="548.2" y2="106.9" stroke="#000" stroke-width="1.1"/><line x1="532.4" y1="122.7" x2="547.7" y2="114.3" stroke="#000" stroke-width="1.1"/><line x1="532.4" y1="122.7" x2="547.7" y2="118.3" stroke="#000" stroke-width="1.1"/><polygon points="532,123 537,119 538,121" fill="#000"/><path d="M555.1 107.9L561.3 121.2L567.4 112.3L570.4 116.8" fill="none" stroke="#000" stroke-width="1.1"/><g shape-rendering="crispEdges"><rect x="555" y="121" width="1" height="1" fill="#000"/><rect x="557" y="121" width="1" height="1" fill="#000"/><rect x="559" y="121" width="1" height="1" fill="#000"/><rect x="561" y="121" width="1" height="1" fill="#000"/><rect x="563" y="121" width="1" height="1" fill="#000"/><rect x="565" y="121" width="1" height="1" fill="#000"/><rect x="567" y="121" width="1" height="1" fill="#000"/><rect x="569" y="121" width="1" height="1" fill="#000"/></g><g shape-rendering="crispEdges"><rect x="578.5" y="107.5" width="14" height="14" fill="#fff" stroke="#808080"/><rect x="582" y="108" width="1" height="14" fill="#a0a0a0"/><rect x="578" y="111" width="15" height="1" fill="#a0a0a0"/><rect x="585" y="108" width="1" height="14" fill="#a0a0a0"/><rect x="578" y="114" width="15" height="1" fill="#a0a0a0"/><rect x="589" y="108" width="1" height="14" fill="#a0a0a0"/><rect x="578" y="118" width="15" height="1" fill="#a0a0a0"/><rect x="579" y="108" width="1" height="1" fill="#ff0000"/><rect x="579" y="111" width="1" height="1" fill="#ff0000"/><rect x="579" y="114" width="1" height="1" fill="#ff0000"/><rect x="579" y="118" width="1" height="1" fill="#ff0000"/><rect x="579" y="121" width="1" height="1" fill="#ff0000"/><rect x="582" y="108" width="1" height="1" fill="#ff0000"/><rect x="582" y="111" width="1" height="1" fill="#ff0000"/><rect x="582" y="114" width="1" height="1" fill="#ff0000"/><rect x="582" y="118" width="1" height="1" fill="#ff0000"/><rect x="582" y="121" width="1" height="1" fill="#ff0000"/><rect x="585" y="108" width="1" height="1" fill="#ff0000"/><rect x="585" y="111" width="1" height="1" fill="#ff0000"/><rect x="585" y="114" width="1" height="1" fill="#ff0000"/><rect x="585" y="118" width="1" height="1" fill="#ff0000"/><rect x="585" y="121" width="1" height="1" fill="#ff0000"/><rect x="589" y="108" width="1" height="1" fill="#ff0000"/><rect x="589" y="111" width="1" height="1" fill="#ff0000"/><rect x="589" y="114" width="1" height="1" fill="#ff0000"/><rect x="589" y="118" width="1" height="1" fill="#ff0000"/><rect x="589" y="121" width="1" height="1" fill="#ff0000"/><rect x="592" y="108" width="1" height="1" fill="#ff0000"/><rect x="592" y="111" width="1" height="1" fill="#ff0000"/><rect x="592" y="114" width="1" height="1" fill="#ff0000"/><rect x="592" y="118" width="1" height="1" fill="#ff0000"/><rect x="592" y="121" width="1" height="1" fill="#ff0000"/></g><circle cx="585.5" cy="114.5" r="2" fill="none" stroke="#a0a0a0" stroke-width="0.8"/><circle cx="580.5" cy="109.5" r="1.3" fill="none" stroke="#a0a0a0" stroke-width="0.7"/><circle cx="590.5" cy="109.5" r="1.3" fill="none" stroke="#a0a0a0" stroke-width="0.7"/><circle cx="580.5" cy="119.5" r="1.3" fill="none" stroke="#a0a0a0" stroke-width="0.7"/><circle cx="590.5" cy="119.5" r="1.3" fill="none" stroke="#a0a0a0" stroke-width="0.7"/><g shape-rendering="crispEdges"><rect x="601.5" y="107.5" width="14" height="14" fill="#fff" stroke="#808080"/><rect x="605" y="108" width="1" height="14" fill="#a0a0a0"/><rect x="601" y="111" width="15" height="1" fill="#a0a0a0"/><rect x="608" y="108" width="1" height="14" fill="#a0a0a0"/><rect x="601" y="114" width="15" height="1" fill="#a0a0a0"/><rect x="612" y="108" width="1" height="14" fill="#a0a0a0"/><rect x="601" y="118" width="15" height="1" fill="#a0a0a0"/><rect x="602" y="108" width="1" height="1" fill="#ff0000"/><rect x="602" y="111" width="1" height="1" fill="#ff0000"/><rect x="602" y="114" width="1" height="1" fill="#ff0000"/><rect x="602" y="118" width="1" height="1" fill="#ff0000"/><rect x="602" y="121" width="1" height="1" fill="#ff0000"/><rect x="605" y="108" width="1" height="1" fill="#ff0000"/><rect x="605" y="111" width="1" height="1" fill="#ff0000"/><rect x="605" y="114" width="1" height="1" fill="#ff0000"/><rect x="605" y="118" width="1" height="1" fill="#ff0000"/><rect x="605" y="121" width="1" height="1" fill="#ff0000"/><rect x="608" y="108" width="1" height="1" fill="#ff0000"/><rect x="608" y="111" width="1" height="1" fill="#ff0000"/><rect x="608" y="114" width="1" height="1" fill="#ff0000"/><rect x="608" y="118" width="1" height="1" fill="#ff0000"/><rect x="608" y="121" width="1" height="1" fill="#ff0000"/><rect x="612" y="108" width="1" height="1" fill="#ff0000"/><rect x="612" y="111" width="1" height="1" fill="#ff0000"/><rect x="612" y="114" width="1" height="1" fill="#ff0000"/><rect x="612" y="118" width="1" height="1" fill="#ff0000"/><rect x="612" y="121" width="1" height="1" fill="#ff0000"/><rect x="615" y="108" width="1" height="1" fill="#ff0000"/><rect x="615" y="111" width="1" height="1" fill="#ff0000"/><rect x="615" y="114" width="1" height="1" fill="#ff0000"/><rect x="615" y="118" width="1" height="1" fill="#ff0000"/><rect x="615" y="121" width="1" height="1" fill="#ff0000"/></g><circle cx="608.5" cy="114.5" r="2" fill="none" stroke="#a0a0a0" stroke-width="0.8"/><circle cx="603.5" cy="109.5" r="1.3" fill="none" stroke="#a0a0a0" stroke-width="0.7"/><circle cx="613.5" cy="109.5" r="1.3" fill="none" stroke="#a0a0a0" stroke-width="0.7"/><circle cx="603.5" cy="119.5" r="1.3" fill="none" stroke="#a0a0a0" stroke-width="0.7"/><circle cx="613.5" cy="119.5" r="1.3" fill="none" stroke="#a0a0a0" stroke-width="0.7"/><g shape-rendering="crispEdges"><rect x="601" y="106" width="2" height="17" fill="#000"/><rect x="601" y="121" width="15" height="2" fill="#000"/></g><polygon points="618,123.5 615,120 615,120" fill="#000"/><polygon points="602,105 600,108 604,108" fill="#000"/><g shape-rendering="crispEdges"><rect x="625" y="106" width="1" height="17" fill="#808080"/><rect x="635" y="106" width="1" height="17" fill="#808080"/></g><line x1="624.6" y1="115.8" x2="638.8" y2="107.4" stroke="#000" stroke-width="1"/><line x1="624.6" y1="118.7" x2="638.8" y2="111.9" stroke="#000" stroke-width="1"/><line x1="624.6" y1="121.2" x2="638.8" y2="116.3" stroke="#000" stroke-width="1"/><g shape-rendering="crispEdges"><rect x="658" y="108" width="1" height="15" fill="#000"/><rect x="662" y="108" width="1" height="15" fill="#000"/><rect x="666" y="109" width="1" height="13" fill="#000"/><rect x="658" y="108" width="9" height="1" fill="#000"/><rect x="658" y="110" width="9" height="1" fill="#000"/><rect x="658" y="112" width="9" height="1" fill="#000"/><rect x="658" y="114" width="9" height="1" fill="#000"/><rect x="658" y="116" width="9" height="1" fill="#000"/><rect x="658" y="118" width="9" height="1" fill="#000"/><rect x="658" y="120" width="9" height="1" fill="#000"/><rect x="658" y="122" width="9" height="1" fill="#000"/><rect x="666" y="122" width="6" height="1" fill="#000"/></g><text x="669" y="121" fill="#000" transform="rotate(-90 669 115)" style="font-family:'Liberation Sans',sans-serif;font-size:5px;font-weight:bold">123</text><g shape-rendering="crispEdges"><rect x="680" y="107" width="16" height="1" fill="#ff0000"/><rect x="680" y="122" width="6" height="1" fill="#ff0000"/><rect x="688" y="113" width="8" height="1" fill="#ff0000"/></g><line x1="682" y1="122.2" x2="688.4" y2="108.4" stroke="#000" stroke-width="1"/><path d="M688.4 108.4L692.8 112.8L695.8 108.9" fill="none" stroke="#000" stroke-width="1"/><text x="687.5" y="122" fill="#ff0000" style="font-family:'Liberation Sans',sans-serif;font-size:11px">%</text><text x="703.8" y="121" fill="#000" style="font-family:'Liberation Sans',sans-serif;font-size:14.5px">%</text><g shape-rendering="crispEdges"><rect x="726" y="107" width="17" height="1" fill="#000"/><rect x="733" y="110" width="10" height="1" fill="#000"/><rect x="736" y="115" width="7" height="1" fill="#000"/><rect x="726" y="122" width="17" height="1" fill="#000"/></g><text x="725.5" y="121" fill="#ff0000" style="font-family:'Liberation Sans',sans-serif;font-size:11px">%</text><polygon points="753.5,107.5 760.5,107.5 765,112 765,118 760.5,122.5 753.5,122.5 749,118 749,112" fill="#f0f0e0" stroke="#909090" stroke-width="1"/><text x="757" y="120.5" text-anchor="middle" fill="#808000" style="font-family:'Noto Sans CJK SC',sans-serif;font-size:11px">金</text><g shape-rendering="crispEdges"><rect x="772" y="107" width="17" height="1" fill="#000"/><rect x="781" y="110" width="8" height="1" fill="#000"/><rect x="781" y="115" width="8" height="1" fill="#000"/><rect x="772" y="122" width="17" height="1" fill="#000"/></g><text x="776.5" y="120.5" text-anchor="middle" fill="#808000" style="font-family:'Noto Sans CJK SC',sans-serif;font-size:11px">金</text><g shape-rendering="crispEdges"><rect x="797" y="107" width="1" height="16" fill="#000"/><rect x="795" y="109" width="5" height="1" fill="#000"/><rect x="795" y="112" width="5" height="1" fill="#000"/><rect x="795" y="115" width="5" height="1" fill="#000"/><rect x="795" y="118" width="5" height="1" fill="#000"/><rect x="795" y="122" width="5" height="1" fill="#000"/></g><polygon points="802,119.5 806.5,110 811,113 805,121" fill="#d8d8d0" stroke="#404040" stroke-width="0.8"/><path d="M804 118.5l3.5-7M806 119.5l3.5-7" stroke="#909090" stroke-width="0.7"/><polygon points="806.5,110 809,107 812,109 811,113" fill="#ff0000"/><circle cx="802.3" cy="120.3" r="1.4" fill="#ff0000"/><g shape-rendering="crispEdges"><rect x="818" y="107" width="16" height="1" fill="#ff0000"/><rect x="818" y="122" width="16" height="1" fill="#ff0000"/><rect x="818" y="114" width="16" height="1" fill="#000"/></g><path d="M818.2 119.2C820 110 822 108 823.2 109.9S826 122 827.1 121.2 831 110 833.5 109.4" fill="none" stroke="#808080" stroke-width="1"/><g shape-rendering="crispEdges"><rect x="821" y="110" width="1" height="10" fill="#a0a0a0"/></g><g shape-rendering="crispEdges"><rect x="841" y="107" width="17" height="1" fill="#ff0000"/><rect x="841" y="122" width="17" height="1" fill="#ff0000"/></g><text x="849.5" y="120.5" text-anchor="middle" fill="#808000" style="font-family:'Noto Sans CJK SC',sans-serif;font-size:11px">金</text><g shape-rendering="crispEdges"><rect x="868" y="106" width="2" height="9" fill="#ff0000"/><rect x="865" y="114" width="4" height="1" fill="#ff0000"/><rect x="864" y="111" width="2" height="3" fill="#ff0000"/></g><line x1="864" y1="122.7" x2="879.8" y2="107.2" stroke="#000" stroke-width="1.1"/><g shape-rendering="crispEdges"><rect x="872" y="115" width="8" height="1" fill="#000"/><rect x="869" y="118" width="11" height="1" fill="#000"/><rect x="864" y="122" width="16" height="1" fill="#000"/></g><g shape-rendering="crispEdges"><rect x="887" y="107" width="2" height="9" fill="#ff0000"/><rect x="887" y="107" width="6" height="2" fill="#ff0000"/><rect x="887" y="111" width="5" height="2" fill="#ff0000"/></g><line x1="887" y1="122.7" x2="902.8" y2="107.2" stroke="#000" stroke-width="1.1"/><g shape-rendering="crispEdges"><rect x="895" y="115" width="8" height="1" fill="#000"/><rect x="892" y="118" width="11" height="1" fill="#000"/><rect x="887" y="122" width="16" height="1" fill="#000"/></g><text x="909.5" y="117.5" fill="#808000" style="font-family:'Noto Sans CJK SC',sans-serif;font-size:12px">金</text><line x1="910" y1="122.7" x2="925.8" y2="107.2" stroke="#000" stroke-width="1.1"/><g shape-rendering="crispEdges"><rect x="918" y="115" width="8" height="1" fill="#000"/><rect x="915" y="118" width="11" height="1" fill="#000"/><rect x="910" y="122" width="16" height="1" fill="#000"/></g><text x="932.5" y="117.5" fill="#ff0000" style="font-family:'Noto Sans CJK SC',sans-serif;font-size:12px">神</text><line x1="933" y1="122.7" x2="948.8" y2="107.2" stroke="#000" stroke-width="1.1"/><g shape-rendering="crispEdges"><rect x="941" y="115" width="8" height="1" fill="#000"/><rect x="938" y="118" width="11" height="1" fill="#000"/><rect x="933" y="122" width="16" height="1" fill="#000"/></g><text x="955.5" y="117.5" fill="#ff0000" style="font-family:'Noto Sans CJK SC',sans-serif;font-size:12px">赢</text><line x1="956" y1="122.7" x2="971.8" y2="107.2" stroke="#000" stroke-width="1.1"/><g shape-rendering="crispEdges"><rect x="964" y="115" width="8" height="1" fill="#000"/><rect x="961" y="118" width="11" height="1" fill="#000"/><rect x="956" y="122" width="16" height="1" fill="#000"/></g><text x="978.5" y="117.5" fill="#ff0000" style="font-family:'Noto Sans CJK SC',sans-serif;font-size:12px">四</text><line x1="979" y1="122.7" x2="994.8" y2="107.2" stroke="#000" stroke-width="1.1"/><g shape-rendering="crispEdges"><rect x="987" y="115" width="8" height="1" fill="#000"/><rect x="984" y="118" width="11" height="1" fill="#000"/><rect x="979" y="122" width="16" height="1" fill="#000"/></g>
<g shape-rendering="crispEdges">
<rect x="52" y="140" width="1166" height="1" fill="#a0a0a0"/>
<text class="dt" x="52.5" y="138">08-29</text>
<text class="dt" x="111.6" y="138">09-15</text>
<text class="dt" x="181.6" y="138">09-29</text>
<text class="dt" x="251.6" y="138">10-20</text>
<text class="dt" x="321.6" y="138">11-03</text>
<text class="dt" x="391.6" y="138">11-17</text>
<text class="dt" x="461.6" y="138">12-01</text>
<text class="dt" x="531.6" y="138">12-15</text>
<text class="dt" x="601.6" y="138">12-29</text>
<text class="dt" x="671.6" y="138">01-14</text>
<text class="dt" x="741.6" y="138">01-28</text>
<text class="dt" x="811.6" y="138">02-11</text>
<text class="dt" x="881.6" y="138">03-04</text>
<text class="dt" x="951.6" y="138">03-18</text>
<text class="dt" x="1021.6" y="138">04-01</text>
<text class="dt" x="1091.6" y="138">04-15</text>
<text class="dt" x="1161.6" y="138">04-29</text>
<line x1="52" y1="524.5" x2="1218" y2="524.5" stroke="#a0a0a0" stroke-width="1" stroke-dasharray="3 3"/>
<line x1="52" y1="542.5" x2="1218" y2="542.5" stroke="#a0a0a0" stroke-width="1" stroke-dasharray="3 3"/>
<line x1="52" y1="558.5" x2="1218" y2="558.5" stroke="#a0a0a0" stroke-width="1" stroke-dasharray="3 3"/>
<line x1="52" y1="574.5" x2="1218" y2="574.5" stroke="#a0a0a0" stroke-width="1" stroke-dasharray="3 3"/>
<polyline points="55.0,524.2 77.8,523.4 102.4,518.9 125.4,518.0 135.2,518.9 155.0,516.3 176.3,516.0 196.0,513.0 212.4,510.2 228.8,507.4 240.0,507.3 272.8,504.9 300.8,502.4 309.0,503.5 325.4,502.7 346.7,500.4 379.6,500.4 384.5,501.6 396.0,500.0 412.4,498.3 425.6,496.3 440.0,497.3 458.7,495.4 474.2,494.5 496.3,498.9 500.0,501.4 508.5,504.5 518.7,512.0 534.0,513.3 562.9,511.6 590.1,511.6 615.6,512.5 627.6,509.1 642.9,508.2 653.1,504.0 661.6,503.5 678.6,499.7 685.4,499.4 690.0,500.9 693.3,501.4 699.0,498.1 706.4,500.3 714.6,499.8 721.2,500.6 727.8,497.3 739.3,494.9 755.7,491.6 772.1,488.3 788.5,484.2 804.9,485.5 819.7,482.2 824.6,478.9 834.5,473.5 844.4,466.1 854.2,456.3 860.8,447.7 870.6,442.8 878.8,439.9 890.0,437.4 915.2,430.6 938.7,417.7 958.3,411.0 985.7,402.0 997.4,400.8 1010.0,394.7 1026.1,384.4 1042.3,372.1 1061.7,349.5 1090.7,332.7 1106.9,325.3 1132.7,308.2 1152.1,291.4 1178.0,277.8 1200.6,267.1 1218.0,257.5" fill="none" stroke="#ff0000" stroke-width="1"/>
<polyline points="55.0,504.5 79.4,503.7 105.7,499.6 138.5,495.5 171.4,492.2 204.2,487.2 240.0,483.3 272.8,480.2 313.9,479.4 338.5,477.0 371.4,474.5 396.0,472.8 412.4,470.0 430.0,469.5 452.1,467.3 474.2,464.4 496.3,464.4 511.9,465.4 523.8,468.4 542.5,464.4 564.6,459.3 585.0,456.4 615.6,451.3 641.2,443.3 653.1,437.1 676.9,430.0 690.0,427.4 699.2,423.4 720.6,421.3 736.0,415.1 751.3,410.2 775.8,402.0 797.2,397.4 815.6,394.3 843.1,382.7 861.5,370.4 880.0,365.6 903.5,358.9 919.1,357.8 934.8,352.3 958.3,344.5 993.5,336.6 1010.0,331.7 1026.1,325.3 1042.3,316.6 1064.9,301.7 1100.4,288.1 1132.7,273.6 1161.8,257.5 1190.9,245.5 1218.0,236.5" fill="none" stroke="#0000ff" stroke-width="1"/>
<polyline points="55.0,483.7 82.8,478.7 115.7,473.8 148.5,468.9 181.4,464.4 214.2,459.9 250.0,456.2 272.8,453.5 305.7,451.5 338.5,449.0 371.4,445.7 415.7,440.0 430.0,438.6 452.1,435.2 474.2,431.3 496.3,425.3 514.0,419.8 536.1,413.1 562.6,404.3 589.1,394.4 606.8,387.7 624.5,380.0 640.0,371.0 660.4,359.3 680.8,349.6 701.2,340.4 721.6,331.7 740.0,324.1 750.3,319.6 765.6,310.4 784.0,305.0 803.9,300.1 816.2,295.8 835.0,292.0 848.8,289.5 872.6,285.4 896.4,280.6 919.1,278.7 958.3,270.9 983.0,266.7 997.4,263.8 1010.0,262.2 1042.3,254.2 1068.1,248.7 1113.4,239.7 1142.7,231.5 1157.0,226.0 1183.5,219.3 1218.0,211.1" fill="none" stroke="#000000" stroke-width="1"/>
<polyline points="55.0,467.4 79.4,463.4 105.0,459.3 118.8,457.0 150.0,451.3 158.5,449.7 171.7,447.6 177.6,446.7 186.8,444.4 199.3,442.4 213.1,440.5 220.3,439.5 230.0,439.2 237.5,438.3 244.5,437.3 251.5,436.3 265.0,435.4 283.0,434.4 297.0,433.4 305.0,432.5 330.0,430.6 338.8,429.4 345.6,428.4 359.9,427.2 367.1,425.5 373.5,424.1 381.0,422.4 389.9,420.7 395.3,419.4 402.1,418.4 410.0,417.3 425.0,416.5 445.0,414.3 460.0,411.2 475.0,407.3 491.9,399.9 505.1,392.2 515.0,385.5 522.8,380.0 533.0,374.5 550.0,367.7 565.0,362.0 594.3,345.9 618.8,329.6 639.0,319.0 645.0,313.0 655.0,307.7 660.3,303.1 675.6,293.9 691.0,284.7 706.3,274.0 721.6,265.6 736.9,257.9 750.3,251.4 765.6,243.0 781.0,235.4 799.5,226.5 817.3,222.7 842.9,221.9 860.7,225.3 878.6,223.5 904.1,220.2 920.0,220.5 940.5,220.5 961.0,217.8 980.6,215.1 989.8,214.9 1003.5,211.8 1010.0,210.8 1030.4,209.1 1061.0,211.1 1099.8,210.1 1120.2,207.0 1142.7,205.6 1173.3,198.9 1218.0,193.4" fill="none" stroke="#0000ff" stroke-width="1"/>
<polyline points="55.0,453.5 79.4,448.6 118.8,440.1 158.2,433.2 181.9,427.7 217.3,422.4 246.9,419.4 280.0,416.5 305.0,415.8 330.0,412.6 345.6,410.9 353.1,409.2 366.7,406.5 377.6,404.1 389.9,400.7 400.0,399.6 425.0,396.5 445.0,393.9 460.0,391.0 474.0,386.2 480.0,383.0 485.0,380.0 500.0,367.5 515.0,354.0 525.0,347.0 545.0,338.0 555.0,329.5 571.0,317.4 587.0,308.5 600.0,301.0 619.0,286.0 632.0,278.0 643.0,268.0 655.0,259.2 663.5,251.0 675.6,244.1 691.0,232.7 700.0,225.5 720.4,208.7 743.4,193.4 768.9,179.3 791.8,169.1 807.1,160.7 818.6,158.9 840.3,159.7 850.5,164.0 860.7,169.9 883.7,168.4 914.3,167.9 942.3,170.9 955.1,170.9 970.4,168.4 985.7,169.1 993.4,166.6 1000.0,166.3 1010.0,166.2 1024.3,166.2 1042.7,169.3 1061.0,175.4 1089.6,179.9 1110.0,181.1 1132.4,181.1 1152.9,181.9 1173.3,179.1 1193.7,177.0 1218.0,178.5" fill="none" stroke="#ff0000" stroke-width="1"/>
<rect x="55" y="471" width="1" height="2" fill="#ff0000"/>
<rect x="52.5" y="467.5" width="5" height="3" fill="#fff" stroke="#ff0000" stroke-width="1"/>
<rect x="59.5" y="464.5" width="5" height="2" fill="#fff" stroke="#ff0000" stroke-width="1"/>
<rect x="69" y="463" width="1" height="2" fill="#ff0000"/>
<rect x="66.5" y="458.5" width="5" height="4" fill="#fff" stroke="#ff0000" stroke-width="1"/>
<rect x="73.5" y="454.5" width="5" height="4" fill="#fff" stroke="#ff0000" stroke-width="1"/>
<rect x="83" y="455" width="1" height="1" fill="#ff0000"/>
<rect x="80.5" y="451.5" width="5" height="3" fill="#fff" stroke="#ff0000" stroke-width="1"/>
<rect x="90" y="451" width="1" height="1" fill="#ff0000"/>
<rect x="87.5" y="447.5" width="5" height="3" fill="#fff" stroke="#ff0000" stroke-width="1"/>
<rect x="97" y="448" width="1" height="2" fill="#008000"/>
<rect x="94" y="447" width="6" height="1" fill="#008000"/>
<rect x="104" y="450" width="1" height="2" fill="#008000"/>
<rect x="101" y="449" width="6" height="1" fill="#008000"/>
<rect x="111" y="445" width="1" height="5" fill="#008000"/>
<rect x="111" y="451" width="1" height="1" fill="#008000"/>
<rect x="108" y="450" width="6" height="1" fill="#008000"/>
<rect x="118" y="450" width="1" height="2" fill="#ff0000"/>
<rect x="115.5" y="446.5" width="5" height="3" fill="#fff" stroke="#ff0000" stroke-width="1"/>
<rect x="125" y="444" width="1" height="2" fill="#ff0000"/>
<rect x="125" y="447" width="1" height="2" fill="#ff0000"/>
<rect x="122" y="446" width="6" height="1" fill="#ff0000"/>
<rect x="129" y="444" width="6" height="10" fill="#008000"/>
<rect x="139" y="452" width="1" height="4" fill="#ff0000"/>
<rect x="136.5" y="450.5" width="5" height="1" fill="#fff" stroke="#ff0000" stroke-width="1"/>
<rect x="146" y="449" width="1" height="1" fill="#ff0000"/>
<rect x="146" y="451" width="1" height="1" fill="#ff0000"/>
<rect x="143" y="450" width="6" height="1" fill="#ff0000"/>
<rect x="153" y="450" width="1" height="2" fill="#ff0000"/>
<rect x="150.5" y="446.5" width="5" height="3" fill="#fff" stroke="#ff0000" stroke-width="1"/>
<rect x="160" y="454" width="1" height="2" fill="#008000"/>
<rect x="157" y="448" width="6" height="6" fill="#008000"/>
<rect x="164.5" y="450.5" width="5" height="4" fill="#fff" stroke="#ff0000" stroke-width="1"/>
<rect x="174" y="443" width="1" height="1" fill="#ff0000"/>
<rect x="171.5" y="444.5" width="5" height="8" fill="#fff" stroke="#ff0000" stroke-width="1"/>
<rect x="181" y="441" width="1" height="1" fill="#008000"/>
<rect x="181" y="445" width="1" height="1" fill="#008000"/>
<rect x="178" y="442" width="6" height="3" fill="#008000"/>
<rect x="188" y="446" width="1" height="1" fill="#ff0000"/>
<rect x="185.5" y="443.5" width="5" height="2" fill="#fff" stroke="#ff0000" stroke-width="1"/>
<rect x="195" y="441" width="1" height="1" fill="#ff0000"/>
<rect x="195" y="443" width="1" height="1" fill="#ff0000"/>
<rect x="192" y="442" width="6" height="1" fill="#ff0000"/>
<rect x="202" y="440" width="1" height="1" fill="#ff0000"/>
<rect x="202" y="442" width="1" height="1" fill="#ff0000"/>
<rect x="199" y="441" width="6" height="1" fill="#ff0000"/>
<rect x="209" y="439" width="1" height="3" fill="#ff0000"/>
<rect x="206.5" y="436.5" width="5" height="2" fill="#fff" stroke="#ff0000" stroke-width="1"/>
<rect x="216" y="436" width="1" height="4" fill="#ff0000"/>
<rect x="213" y="435" width="6" height="1" fill="#ff0000"/>
<rect x="223" y="437" width="1" height="1" fill="#008000"/>
<rect x="223" y="439" width="1" height="1" fill="#008000"/>
<rect x="220" y="438" width="6" height="1" fill="#008000"/>
<rect x="230" y="441" width="1" height="4" fill="#008000"/>
<rect x="227" y="440" width="6" height="1" fill="#008000"/>
<rect x="237" y="439" width="1" height="2" fill="#008000"/>
<rect x="237" y="442" width="1" height="2" fill="#008000"/>
<rect x="234" y="441" width="6" height="1" fill="#008000"/>
<rect x="244" y="441" width="1" height="4" fill="#ff0000"/>
<rect x="241.5" y="438.5" width="5" height="2" fill="#fff" stroke="#ff0000" stroke-width="1"/>
<rect x="251" y="437" width="1" height="4" fill="#008000"/>
<rect x="251" y="442" width="1" height="1" fill="#008000"/>
<rect x="248" y="441" width="6" height="1" fill="#008000"/>
<rect x="258" y="444" width="1" height="7" fill="#008000"/>
<rect x="255" y="443" width="6" height="1" fill="#008000"/>
<rect x="265" y="444" width="1" height="1" fill="#ff0000"/>
<rect x="262.5" y="441.5" width="5" height="2" fill="#fff" stroke="#ff0000" stroke-width="1"/>
<rect x="272" y="441" width="1" height="1" fill="#008000"/>
<rect x="269" y="442" width="6" height="4" fill="#008000"/>
<rect x="279" y="443" width="1" height="2" fill="#008000"/>
<rect x="276" y="445" width="6" height="3" fill="#008000"/>
<rect x="286" y="447" width="1" height="1" fill="#008000"/>
<rect x="286" y="452" width="1" height="1" fill="#008000"/>
<rect x="283" y="448" width="6" height="4" fill="#008000"/>
<rect x="293" y="450" width="1" height="1" fill="#008000"/>
<rect x="293" y="452" width="1" height="2" fill="#008000"/>
<rect x="290" y="451" width="6" height="1" fill="#008000"/>
<rect x="300" y="454" width="1" height="3" fill="#008000"/>
<rect x="297" y="453" width="6" height="1" fill="#008000"/>
<rect x="304.5" y="445.5" width="5" height="7" fill="#fff" stroke="#ff0000" stroke-width="1"/>
<rect x="314" y="437" width="1" height="1" fill="#ff0000"/>
<rect x="314" y="445" width="1" height="1" fill="#ff0000"/>
<rect x="311.5" y="438.5" width="5" height="6" fill="#fff" stroke="#ff0000" stroke-width="1"/>
<rect x="321" y="434" width="1" height="1" fill="#ff0000"/>
<rect x="321" y="439" width="1" height="2" fill="#ff0000"/>
<rect x="318.5" y="435.5" width="5" height="3" fill="#fff" stroke="#ff0000" stroke-width="1"/>
<rect x="328" y="435" width="1" height="2" fill="#ff0000"/>
<rect x="325.5" y="429.5" width="5" height="5" fill="#fff" stroke="#ff0000" stroke-width="1"/>
<rect x="335" y="426" width="1" height="2" fill="#ff0000"/>
<rect x="335" y="429" width="1" height="1" fill="#ff0000"/>
<rect x="332" y="428" width="6" height="1" fill="#ff0000"/>
<rect x="342" y="429" width="1" height="2" fill="#ff0000"/>
<rect x="339" y="428" width="6" height="1" fill="#ff0000"/>
<rect x="346" y="427" width="6" height="3" fill="#008000"/>
<rect x="356" y="430" width="1" height="4" fill="#ff0000"/>
<rect x="353.5" y="428.5" width="5" height="1" fill="#fff" stroke="#ff0000" stroke-width="1"/>
<rect x="363" y="424" width="1" height="5" fill="#008000"/>
<rect x="363" y="430" width="1" height="3" fill="#008000"/>
<rect x="360" y="429" width="6" height="1" fill="#008000"/>
<rect x="370" y="426" width="1" height="3" fill="#ff0000"/>
<rect x="367.5" y="419.5" width="5" height="6" fill="#fff" stroke="#ff0000" stroke-width="1"/>
<rect x="377" y="414" width="1" height="5" fill="#008000"/>
<rect x="377" y="420" width="1" height="6" fill="#008000"/>
<rect x="374" y="419" width="6" height="1" fill="#008000"/>
<rect x="384" y="415" width="1" height="1" fill="#ff0000"/>
<rect x="384" y="423" width="1" height="3" fill="#ff0000"/>
<rect x="381.5" y="416.5" width="5" height="6" fill="#fff" stroke="#ff0000" stroke-width="1"/>
<rect x="391" y="414" width="1" height="1" fill="#008000"/>
<rect x="391" y="418" width="1" height="3" fill="#008000"/>
<rect x="388" y="415" width="6" height="3" fill="#008000"/>
<rect x="398" y="419" width="1" height="5" fill="#ff0000"/>
<rect x="395" y="418" width="6" height="1" fill="#ff0000"/>
<rect x="405" y="419" width="1" height="2" fill="#008000"/>
<rect x="402" y="413" width="6" height="6" fill="#008000"/>
<rect x="409" y="419" width="6" height="5" fill="#008000"/>
<rect x="419" y="424" width="1" height="2" fill="#008000"/>
<rect x="416" y="423" width="6" height="1" fill="#008000"/>
<rect x="426" y="422" width="1" height="2" fill="#ff0000"/>
<rect x="426" y="425" width="1" height="2" fill="#ff0000"/>
<rect x="423" y="424" width="6" height="1" fill="#ff0000"/>
<rect x="433" y="423" width="1" height="3" fill="#ff0000"/>
<rect x="430.5" y="417.5" width="5" height="5" fill="#fff" stroke="#ff0000" stroke-width="1"/>
<rect x="440" y="406" width="1" height="2" fill="#ff0000"/>
<rect x="440" y="413" width="1" height="2" fill="#ff0000"/>
<rect x="437.5" y="408.5" width="5" height="4" fill="#fff" stroke="#ff0000" stroke-width="1"/>
<rect x="444.5" y="402.5" width="5" height="6" fill="#fff" stroke="#ff0000" stroke-width="1"/>
<rect x="451.5" y="396.5" width="5" height="4" fill="#fff" stroke="#ff0000" stroke-width="1"/>
<rect x="461" y="393" width="1" height="4" fill="#ff0000"/>
<rect x="458.5" y="390.5" width="5" height="2" fill="#fff" stroke="#ff0000" stroke-width="1"/>
<rect x="468" y="390" width="1" height="3" fill="#ff0000"/>
<rect x="465.5" y="380.5" width="5" height="9" fill="#fff" stroke="#ff0000" stroke-width="1"/>
<rect x="475" y="374" width="1" height="6" fill="#008000"/>
<rect x="475" y="381" width="1" height="3" fill="#008000"/>
<rect x="472" y="380" width="6" height="1" fill="#008000"/>
<rect x="482" y="364" width="1" height="1" fill="#ff0000"/>
<rect x="479.5" y="365.5" width="5" height="18" fill="#fff" stroke="#ff0000" stroke-width="1"/>
<rect x="489" y="354" width="1" height="8" fill="#ff0000"/>
<rect x="489" y="364" width="1" height="7" fill="#ff0000"/>
<rect x="486.5" y="362.5" width="5" height="1" fill="#fff" stroke="#ff0000" stroke-width="1"/>
<rect x="496" y="361" width="1" height="4" fill="#ff0000"/>
<rect x="493.5" y="340.5" width="5" height="20" fill="#fff" stroke="#ff0000" stroke-width="1"/>
<rect x="503" y="325" width="1" height="8" fill="#ff0000"/>
<rect x="503" y="335" width="1" height="22" fill="#ff0000"/>
<rect x="500.5" y="333.5" width="5" height="1" fill="#fff" stroke="#ff0000" stroke-width="1"/>
<rect x="510" y="313" width="1" height="5" fill="#ff0000"/>
<rect x="510" y="338" width="1" height="5" fill="#ff0000"/>
<rect x="507.5" y="318.5" width="5" height="19" fill="#fff" stroke="#ff0000" stroke-width="1"/>
<rect x="517" y="305" width="1" height="17" fill="#008000"/>
<rect x="517" y="349" width="1" height="3" fill="#008000"/>
<rect x="514" y="322" width="6" height="27" fill="#008000"/>
<rect x="524" y="331" width="1" height="1" fill="#ff0000"/>
<rect x="524" y="348" width="1" height="10" fill="#ff0000"/>
<rect x="521.5" y="332.5" width="5" height="15" fill="#fff" stroke="#ff0000" stroke-width="1"/>
<rect x="531" y="327" width="1" height="8" fill="#ff0000"/>
<rect x="531" y="337" width="1" height="5" fill="#ff0000"/>
<rect x="528.5" y="335.5" width="5" height="1" fill="#fff" stroke="#ff0000" stroke-width="1"/>
<rect x="538" y="328" width="1" height="5" fill="#ff0000"/>
<rect x="538" y="334" width="1" height="4" fill="#ff0000"/>
<rect x="535" y="333" width="6" height="1" fill="#ff0000"/>
<rect x="545" y="328" width="1" height="2" fill="#ff0000"/>
<rect x="545" y="336" width="1" height="6" fill="#ff0000"/>
<rect x="542.5" y="330.5" width="5" height="5" fill="#fff" stroke="#ff0000" stroke-width="1"/>
<rect x="552" y="330" width="1" height="2" fill="#ff0000"/>
<rect x="549.5" y="318.5" width="5" height="11" fill="#fff" stroke="#ff0000" stroke-width="1"/>
<rect x="559" y="307" width="1" height="3" fill="#ff0000"/>
<rect x="559" y="315" width="1" height="7" fill="#ff0000"/>
<rect x="556.5" y="310.5" width="5" height="4" fill="#fff" stroke="#ff0000" stroke-width="1"/>
<rect x="566" y="305" width="1" height="5" fill="#008000"/>
<rect x="566" y="311" width="1" height="4" fill="#008000"/>
<rect x="563" y="310" width="6" height="1" fill="#008000"/>
<rect x="573" y="299" width="1" height="2" fill="#ff0000"/>
<rect x="573" y="311" width="1" height="7" fill="#ff0000"/>
<rect x="570.5" y="301.5" width="5" height="9" fill="#fff" stroke="#ff0000" stroke-width="1"/>
<rect x="580" y="286" width="1" height="11" fill="#008000"/>
<rect x="580" y="298" width="1" height="7" fill="#008000"/>
<rect x="577" y="297" width="6" height="1" fill="#008000"/>
<rect x="587" y="296" width="1" height="9" fill="#008000"/>
<rect x="587" y="315" width="1" height="2" fill="#008000"/>
<rect x="584" y="305" width="6" height="10" fill="#008000"/>
<rect x="594" y="312" width="1" height="2" fill="#008000"/>
<rect x="594" y="327" width="1" height="5" fill="#008000"/>
<rect x="591" y="314" width="6" height="13" fill="#008000"/>
<rect x="601" y="322" width="1" height="5" fill="#ff0000"/>
<rect x="598.5" y="307.5" width="5" height="14" fill="#fff" stroke="#ff0000" stroke-width="1"/>
<rect x="608" y="290" width="1" height="1" fill="#ff0000"/>
<rect x="608" y="306" width="1" height="3" fill="#ff0000"/>
<rect x="605.5" y="291.5" width="5" height="14" fill="#fff" stroke="#ff0000" stroke-width="1"/>
<rect x="615" y="280" width="1" height="1" fill="#008000"/>
<rect x="615" y="291" width="1" height="6" fill="#008000"/>
<rect x="612" y="281" width="6" height="10" fill="#008000"/>
<rect x="622" y="285" width="1" height="6" fill="#ff0000"/>
<rect x="622" y="292" width="1" height="5" fill="#ff0000"/>
<rect x="619" y="291" width="6" height="1" fill="#ff0000"/>
<rect x="629" y="289" width="1" height="4" fill="#ff0000"/>
<rect x="626.5" y="277.5" width="5" height="11" fill="#fff" stroke="#ff0000" stroke-width="1"/>
<rect x="636" y="252" width="1" height="3" fill="#ff0000"/>
<rect x="633.5" y="255.5" width="5" height="17" fill="#fff" stroke="#ff0000" stroke-width="1"/>
<rect x="643" y="247" width="1" height="9" fill="#ff0000"/>
<rect x="643" y="259" width="1" height="6" fill="#ff0000"/>
<rect x="640.5" y="256.5" width="5" height="2" fill="#fff" stroke="#ff0000" stroke-width="1"/>
<rect x="650" y="261" width="1" height="2" fill="#ff0000"/>
<rect x="647.5" y="251.5" width="5" height="9" fill="#fff" stroke="#ff0000" stroke-width="1"/>
<rect x="657" y="267" width="1" height="2" fill="#008000"/>
<rect x="654" y="251" width="6" height="16" fill="#008000"/>
<rect x="664" y="245" width="1" height="24" fill="#ff0000"/>
<rect x="661" y="269" width="6" height="1" fill="#ff0000"/>
<rect x="671" y="270" width="1" height="3" fill="#008000"/>
<rect x="671" y="279" width="1" height="7" fill="#008000"/>
<rect x="668" y="273" width="6" height="6" fill="#008000"/>
<rect x="678" y="272" width="1" height="6" fill="#ff0000"/>
<rect x="678" y="279" width="1" height="2" fill="#ff0000"/>
<rect x="675" y="278" width="6" height="1" fill="#ff0000"/>
<rect x="685" y="272" width="1" height="5" fill="#008000"/>
<rect x="685" y="278" width="1" height="8" fill="#008000"/>
<rect x="682" y="277" width="6" height="1" fill="#008000"/>
<rect x="692" y="280" width="1" height="3" fill="#ff0000"/>
<rect x="689.5" y="258.5" width="5" height="21" fill="#fff" stroke="#ff0000" stroke-width="1"/>
<rect x="699" y="246" width="1" height="4" fill="#ff0000"/>
<rect x="696.5" y="250.5" width="5" height="6" fill="#fff" stroke="#ff0000" stroke-width="1"/>
<rect x="706" y="273" width="1" height="12" fill="#008000"/>
<rect x="706" y="300" width="1" height="3" fill="#008000"/>
<rect x="703" y="285" width="6" height="15" fill="#008000"/>
<rect x="713" y="286" width="1" height="3" fill="#ff0000"/>
<rect x="713" y="300" width="1" height="3" fill="#ff0000"/>
<rect x="710.5" y="289.5" width="5" height="10" fill="#fff" stroke="#ff0000" stroke-width="1"/>
<rect x="720" y="258" width="1" height="2" fill="#ff0000"/>
<rect x="720" y="287" width="1" height="2" fill="#ff0000"/>
<rect x="717.5" y="260.5" width="5" height="26" fill="#fff" stroke="#ff0000" stroke-width="1"/>
<rect x="727" y="255" width="1" height="2" fill="#ff0000"/>
<rect x="727" y="261" width="1" height="5" fill="#ff0000"/>
<rect x="724.5" y="257.5" width="5" height="3" fill="#fff" stroke="#ff0000" stroke-width="1"/>
<rect x="734" y="246" width="1" height="8" fill="#008000"/>
<rect x="734" y="255" width="1" height="5" fill="#008000"/>
<rect x="731" y="254" width="6" height="1" fill="#008000"/>
<rect x="741" y="256" width="1" height="5" fill="#ff0000"/>
<rect x="738.5" y="250.5" width="5" height="5" fill="#fff" stroke="#ff0000" stroke-width="1"/>
<rect x="748" y="255" width="1" height="13" fill="#008000"/>
<rect x="745" y="248" width="6" height="7" fill="#008000"/>
<rect x="755" y="256" width="1" height="4" fill="#008000"/>
<rect x="755" y="264" width="1" height="3" fill="#008000"/>
<rect x="752" y="260" width="6" height="4" fill="#008000"/>
<rect x="762" y="267" width="1" height="5" fill="#ff0000"/>
<rect x="762" y="273" width="1" height="4" fill="#ff0000"/>
<rect x="759" y="272" width="6" height="1" fill="#ff0000"/>
<rect x="769" y="268" width="1" height="2" fill="#008000"/>
<rect x="766" y="270" width="6" height="12" fill="#008000"/>
<rect x="776" y="289" width="1" height="4" fill="#008000"/>
<rect x="776" y="298" width="1" height="1" fill="#008000"/>
<rect x="773" y="293" width="6" height="5" fill="#008000"/>
<rect x="783" y="282" width="1" height="1" fill="#ff0000"/>
<rect x="783" y="293" width="1" height="5" fill="#ff0000"/>
<rect x="780.5" y="283.5" width="5" height="9" fill="#fff" stroke="#ff0000" stroke-width="1"/>
<rect x="790" y="277" width="1" height="4" fill="#008000"/>
<rect x="790" y="288" width="1" height="2" fill="#008000"/>
<rect x="787" y="281" width="6" height="7" fill="#008000"/>
<rect x="797" y="296" width="1" height="1" fill="#008000"/>
<rect x="794" y="274" width="6" height="22" fill="#008000"/>
<rect x="804" y="308" width="1" height="4" fill="#008000"/>
<rect x="801" y="299" width="6" height="9" fill="#008000"/>
<rect x="811" y="300" width="1" height="4" fill="#ff0000"/>
<rect x="811" y="309" width="1" height="4" fill="#ff0000"/>
<rect x="808.5" y="304.5" width="5" height="4" fill="#fff" stroke="#ff0000" stroke-width="1"/>
<rect x="818" y="305" width="1" height="1" fill="#ff0000"/>
<rect x="815.5" y="295.5" width="5" height="9" fill="#fff" stroke="#ff0000" stroke-width="1"/>
<rect x="825" y="290" width="1" height="1" fill="#ff0000"/>
<rect x="822.5" y="291.5" width="5" height="3" fill="#fff" stroke="#ff0000" stroke-width="1"/>
<rect x="832" y="287" width="1" height="1" fill="#ff0000"/>
<rect x="832" y="292" width="1" height="4" fill="#ff0000"/>
<rect x="829.5" y="288.5" width="5" height="3" fill="#fff" stroke="#ff0000" stroke-width="1"/>
<rect x="839" y="277" width="1" height="6" fill="#ff0000"/>
<rect x="836.5" y="283.5" width="5" height="3" fill="#fff" stroke="#ff0000" stroke-width="1"/>
<rect x="846" y="278" width="1" height="1" fill="#ff0000"/>
<rect x="846" y="282" width="1" height="3" fill="#ff0000"/>
<rect x="843.5" y="279.5" width="5" height="2" fill="#fff" stroke="#ff0000" stroke-width="1"/>
<rect x="853" y="273" width="1" height="2" fill="#ff0000"/>
<rect x="850.5" y="275.5" width="5" height="2" fill="#fff" stroke="#ff0000" stroke-width="1"/>
<rect x="860" y="278" width="1" height="4" fill="#008000"/>
<rect x="857" y="273" width="6" height="5" fill="#008000"/>
<rect x="867" y="280" width="1" height="4" fill="#ff0000"/>
<rect x="864.5" y="265.5" width="5" height="14" fill="#fff" stroke="#ff0000" stroke-width="1"/>
<rect x="874" y="260" width="1" height="3" fill="#ff0000"/>
<rect x="874" y="265" width="1" height="2" fill="#ff0000"/>
<rect x="871.5" y="263.5" width="5" height="1" fill="#fff" stroke="#ff0000" stroke-width="1"/>
<rect x="881" y="259" width="1" height="6" fill="#ff0000"/>
<rect x="878" y="258" width="6" height="1" fill="#ff0000"/>
<rect x="885" y="261" width="6" height="12" fill="#008000"/>
<rect x="895" y="267" width="1" height="2" fill="#ff0000"/>
<rect x="895" y="273" width="1" height="2" fill="#ff0000"/>
<rect x="892.5" y="269.5" width="5" height="3" fill="#fff" stroke="#ff0000" stroke-width="1"/>
<rect x="902" y="274" width="1" height="6" fill="#008000"/>
<rect x="899" y="272" width="6" height="2" fill="#008000"/>
<rect x="909" y="273" width="1" height="2" fill="#008000"/>
<rect x="909" y="276" width="1" height="2" fill="#008000"/>
<rect x="906" y="275" width="6" height="1" fill="#008000"/>
<rect x="916" y="263" width="1" height="1" fill="#ff0000"/>
<rect x="916" y="280" width="1" height="5" fill="#ff0000"/>
<rect x="913.5" y="264.5" width="5" height="15" fill="#fff" stroke="#ff0000" stroke-width="1"/>
<rect x="923" y="264" width="1" height="3" fill="#008000"/>
<rect x="923" y="268" width="1" height="2" fill="#008000"/>
<rect x="920" y="267" width="6" height="1" fill="#008000"/>
<rect x="930" y="260" width="1" height="8" fill="#ff0000"/>
<rect x="927" y="268" width="6" height="1" fill="#ff0000"/>
<rect x="937" y="254" width="1" height="2" fill="#ff0000"/>
<rect x="937" y="262" width="1" height="4" fill="#ff0000"/>
<rect x="934.5" y="256.5" width="5" height="5" fill="#fff" stroke="#ff0000" stroke-width="1"/>
<rect x="944" y="248" width="1" height="3" fill="#ff0000"/>
<rect x="944" y="255" width="1" height="1" fill="#ff0000"/>
<rect x="941.5" y="251.5" width="5" height="3" fill="#fff" stroke="#ff0000" stroke-width="1"/>
<rect x="951" y="249" width="1" height="2" fill="#ff0000"/>
<rect x="948.5" y="238.5" width="5" height="10" fill="#fff" stroke="#ff0000" stroke-width="1"/>
<rect x="958" y="233" width="1" height="3" fill="#ff0000"/>
<rect x="955.5" y="227.5" width="5" height="5" fill="#fff" stroke="#ff0000" stroke-width="1"/>
<rect x="965" y="226" width="1" height="2" fill="#ff0000"/>
<rect x="962.5" y="214.5" width="5" height="11" fill="#fff" stroke="#ff0000" stroke-width="1"/>
<rect x="972" y="209" width="1" height="3" fill="#ff0000"/>
<rect x="972" y="213" width="1" height="7" fill="#ff0000"/>
<rect x="969" y="212" width="6" height="1" fill="#ff0000"/>
<rect x="979" y="204" width="1" height="2" fill="#ff0000"/>
<rect x="979" y="211" width="1" height="4" fill="#ff0000"/>
<rect x="976.5" y="206.5" width="5" height="4" fill="#fff" stroke="#ff0000" stroke-width="1"/>
<rect x="986" y="202" width="1" height="1" fill="#ff0000"/>
<rect x="983.5" y="192.5" width="5" height="9" fill="#fff" stroke="#ff0000" stroke-width="1"/>
<rect x="993" y="187" width="1" height="4" fill="#008000"/>
<rect x="993" y="192" width="1" height="18" fill="#008000"/>
<rect x="990" y="191" width="6" height="1" fill="#008000"/>
<rect x="1000" y="192" width="1" height="2" fill="#008000"/>
<rect x="1000" y="197" width="1" height="6" fill="#008000"/>
<rect x="997" y="194" width="6" height="3" fill="#008000"/>
<rect x="1007" y="189" width="1" height="5" fill="#ff0000"/>
<rect x="1007" y="201" width="1" height="6" fill="#ff0000"/>
<rect x="1004.5" y="194.5" width="5" height="6" fill="#fff" stroke="#ff0000" stroke-width="1"/>
<rect x="52.5" y="581.5" width="5" height="19" fill="#fff" stroke="#ff0000" stroke-width="1"/>
<rect x="59.5" y="579.5" width="5" height="21" fill="#fff" stroke="#ff0000" stroke-width="1"/>
<rect x="66.5" y="574.5" width="5" height="26" fill="#fff" stroke="#ff0000" stroke-width="1"/>
<rect x="73.5" y="572.5" width="5" height="28" fill="#fff" stroke="#ff0000" stroke-width="1"/>
<rect x="80.5" y="573.5" width="5" height="27" fill="#fff" stroke="#ff0000" stroke-width="1"/>
<rect x="87.5" y="572.5" width="5" height="28" fill="#fff" stroke="#ff0000" stroke-width="1"/>
<rect x="94" y="573" width="6" height="27" fill="#008000"/>
<rect x="101" y="574" width="6" height="26" fill="#008000"/>
<rect x="108" y="571" width="6" height="29" fill="#008000"/>
<rect x="115.5" y="573.5" width="5" height="27" fill="#fff" stroke="#ff0000" stroke-width="1"/>
<rect x="122.5" y="572.5" width="5" height="28" fill="#fff" stroke="#ff0000" stroke-width="1"/>
<rect x="129" y="564" width="6" height="36" fill="#008000"/>
<rect x="136.5" y="572.5" width="5" height="28" fill="#fff" stroke="#ff0000" stroke-width="1"/>
<rect x="143.5" y="574.5" width="5" height="26" fill="#fff" stroke="#ff0000" stroke-width="1"/>
<rect x="150.5" y="575.5" width="5" height="25" fill="#fff" stroke="#ff0000" stroke-width="1"/>
<rect x="157" y="575" width="6" height="25" fill="#008000"/>
<rect x="164.5" y="577.5" width="5" height="23" fill="#fff" stroke="#ff0000" stroke-width="1"/>
<rect x="171.5" y="571.5" width="5" height="29" fill="#fff" stroke="#ff0000" stroke-width="1"/>
<rect x="178" y="571" width="6" height="29" fill="#008000"/>
<rect x="185.5" y="575.5" width="5" height="25" fill="#fff" stroke="#ff0000" stroke-width="1"/>
<rect x="192.5" y="573.5" width="5" height="27" fill="#fff" stroke="#ff0000" stroke-width="1"/>
<rect x="199.5" y="573.5" width="5" height="27" fill="#fff" stroke="#ff0000" stroke-width="1"/>
<rect x="206.5" y="573.5" width="5" height="27" fill="#fff" stroke="#ff0000" stroke-width="1"/>
<rect x="213.5" y="570.5" width="5" height="30" fill="#fff" stroke="#ff0000" stroke-width="1"/>
<rect x="220" y="571" width="6" height="29" fill="#008000"/>
<rect x="227" y="573" width="6" height="27" fill="#008000"/>
<rect x="234" y="573" width="6" height="27" fill="#008000"/>
<rect x="241.5" y="573.5" width="5" height="27" fill="#fff" stroke="#ff0000" stroke-width="1"/>
<rect x="248" y="569" width="6" height="31" fill="#008000"/>
<rect x="255" y="572" width="6" height="28" fill="#008000"/>
<rect x="262.5" y="576.5" width="5" height="24" fill="#fff" stroke="#ff0000" stroke-width="1"/>
<rect x="269" y="576" width="6" height="24" fill="#008000"/>
<rect x="276" y="577" width="6" height="23" fill="#008000"/>
<rect x="283" y="576" width="6" height="24" fill="#008000"/>
<rect x="290" y="579" width="6" height="21" fill="#008000"/>
<rect x="297" y="579" width="6" height="21" fill="#008000"/>
<rect x="304.5" y="575.5" width="5" height="25" fill="#fff" stroke="#ff0000" stroke-width="1"/>
<rect x="311.5" y="567.5" width="5" height="33" fill="#fff" stroke="#ff0000" stroke-width="1"/>
<rect x="318.5" y="565.5" width="5" height="35" fill="#fff" stroke="#ff0000" stroke-width="1"/>
<rect x="325.5" y="562.5" width="5" height="38" fill="#fff" stroke="#ff0000" stroke-width="1"/>
<rect x="332.5" y="564.5" width="5" height="36" fill="#fff" stroke="#ff0000" stroke-width="1"/>
<rect x="339.5" y="564.5" width="5" height="36" fill="#fff" stroke="#ff0000" stroke-width="1"/>
<rect x="346" y="567" width="6" height="33" fill="#008000"/>
<rect x="353.5" y="571.5" width="5" height="29" fill="#fff" stroke="#ff0000" stroke-width="1"/>
<rect x="360" y="565" width="6" height="35" fill="#008000"/>
<rect x="367.5" y="564.5" width="5" height="36" fill="#fff" stroke="#ff0000" stroke-width="1"/>
<rect x="374" y="555" width="6" height="45" fill="#008000"/>
<rect x="381.5" y="568.5" width="5" height="32" fill="#fff" stroke="#ff0000" stroke-width="1"/>
<rect x="388" y="565" width="6" height="35" fill="#008000"/>
<rect x="395.5" y="571.5" width="5" height="29" fill="#fff" stroke="#ff0000" stroke-width="1"/>
<rect x="402" y="572" width="6" height="28" fill="#008000"/>
<rect x="409" y="573" width="6" height="27" fill="#008000"/>
<rect x="416" y="574" width="6" height="26" fill="#008000"/>
<rect x="423.5" y="576.5" width="5" height="24" fill="#fff" stroke="#ff0000" stroke-width="1"/>
<rect x="430.5" y="572.5" width="5" height="28" fill="#fff" stroke="#ff0000" stroke-width="1"/>
<rect x="437.5" y="559.5" width="5" height="41" fill="#fff" stroke="#ff0000" stroke-width="1"/>
<rect x="444.5" y="563.5" width="5" height="37" fill="#fff" stroke="#ff0000" stroke-width="1"/>
<rect x="451.5" y="561.5" width="5" height="39" fill="#fff" stroke="#ff0000" stroke-width="1"/>
<rect x="458.5" y="559.5" width="5" height="41" fill="#fff" stroke="#ff0000" stroke-width="1"/>
<rect x="465.5" y="550.5" width="5" height="50" fill="#fff" stroke="#ff0000" stroke-width="1"/>
<rect x="472" y="552" width="6" height="48" fill="#008000"/>
<rect x="479.5" y="553.5" width="5" height="47" fill="#fff" stroke="#ff0000" stroke-width="1"/>
<rect x="486.5" y="542.5" width="5" height="58" fill="#fff" stroke="#ff0000" stroke-width="1"/>
<rect x="493.5" y="544.5" width="5" height="56" fill="#fff" stroke="#ff0000" stroke-width="1"/>
<rect x="500.5" y="535.5" width="5" height="65" fill="#fff" stroke="#ff0000" stroke-width="1"/>
<rect x="507.5" y="540.5" width="5" height="60" fill="#fff" stroke="#ff0000" stroke-width="1"/>
<rect x="514" y="524" width="6" height="76" fill="#008000"/>
<rect x="521.5" y="546.5" width="5" height="54" fill="#fff" stroke="#ff0000" stroke-width="1"/>
<rect x="528.5" y="549.5" width="5" height="51" fill="#fff" stroke="#ff0000" stroke-width="1"/>
<rect x="535.5" y="555.5" width="5" height="45" fill="#fff" stroke="#ff0000" stroke-width="1"/>
<rect x="542.5" y="556.5" width="5" height="44" fill="#fff" stroke="#ff0000" stroke-width="1"/>
<rect x="549.5" y="551.5" width="5" height="49" fill="#fff" stroke="#ff0000" stroke-width="1"/>
<rect x="556.5" y="544.5" width="5" height="56" fill="#fff" stroke="#ff0000" stroke-width="1"/>
<rect x="563" y="553" width="6" height="47" fill="#008000"/>
<rect x="570.5" y="545.5" width="5" height="55" fill="#fff" stroke="#ff0000" stroke-width="1"/>
<rect x="577" y="532" width="6" height="68" fill="#008000"/>
<rect x="584" y="553" width="6" height="47" fill="#008000"/>
<rect x="591" y="558" width="6" height="42" fill="#008000"/>
<rect x="598.5" y="558.5" width="5" height="42" fill="#fff" stroke="#ff0000" stroke-width="1"/>
<rect x="605.5" y="551.5" width="5" height="49" fill="#fff" stroke="#ff0000" stroke-width="1"/>
<rect x="612" y="546" width="6" height="54" fill="#008000"/>
<rect x="619.5" y="556.5" width="5" height="44" fill="#fff" stroke="#ff0000" stroke-width="1"/>
<rect x="626.5" y="555.5" width="5" height="45" fill="#fff" stroke="#ff0000" stroke-width="1"/>
<rect x="633.5" y="545.5" width="5" height="55" fill="#fff" stroke="#ff0000" stroke-width="1"/>
<rect x="640.5" y="547.5" width="5" height="53" fill="#fff" stroke="#ff0000" stroke-width="1"/>
<rect x="647.5" y="556.5" width="5" height="44" fill="#fff" stroke="#ff0000" stroke-width="1"/>
<rect x="654" y="558" width="6" height="42" fill="#008000"/>
<rect x="661.5" y="555.5" width="5" height="45" fill="#fff" stroke="#ff0000" stroke-width="1"/>
<rect x="668" y="562" width="6" height="38" fill="#008000"/>
<rect x="675.5" y="570.5" width="5" height="30" fill="#fff" stroke="#ff0000" stroke-width="1"/>
<rect x="682" y="569" width="6" height="31" fill="#008000"/>
<rect x="689.5" y="566.5" width="5" height="34" fill="#fff" stroke="#ff0000" stroke-width="1"/>
<rect x="696.5" y="561.5" width="5" height="39" fill="#fff" stroke="#ff0000" stroke-width="1"/>
<rect x="703" y="556" width="6" height="44" fill="#008000"/>
<rect x="710.5" y="559.5" width="5" height="41" fill="#fff" stroke="#ff0000" stroke-width="1"/>
<rect x="717.5" y="555.5" width="5" height="45" fill="#fff" stroke="#ff0000" stroke-width="1"/>
<rect x="724.5" y="560.5" width="5" height="40" fill="#fff" stroke="#ff0000" stroke-width="1"/>
<rect x="731" y="559" width="6" height="41" fill="#008000"/>
<rect x="738.5" y="563.5" width="5" height="37" fill="#fff" stroke="#ff0000" stroke-width="1"/>
<rect x="745" y="558" width="6" height="42" fill="#008000"/>
<rect x="752" y="564" width="6" height="36" fill="#008000"/>
<rect x="759.5" y="567.5" width="5" height="33" fill="#fff" stroke="#ff0000" stroke-width="1"/>
<rect x="766" y="568" width="6" height="32" fill="#008000"/>
<rect x="773" y="569" width="6" height="31" fill="#008000"/>
<rect x="780.5" y="569.5" width="5" height="31" fill="#fff" stroke="#ff0000" stroke-width="1"/>
<rect x="787" y="569" width="6" height="31" fill="#008000"/>
<rect x="794" y="564" width="6" height="36" fill="#008000"/>
<rect x="801" y="569" width="6" height="31" fill="#008000"/>
<rect x="808.5" y="572.5" width="5" height="28" fill="#fff" stroke="#ff0000" stroke-width="1"/>
<rect x="815.5" y="573.5" width="5" height="27" fill="#fff" stroke="#ff0000" stroke-width="1"/>
<rect x="822.5" y="575.5" width="5" height="25" fill="#fff" stroke="#ff0000" stroke-width="1"/>
<rect x="829.5" y="573.5" width="5" height="27" fill="#fff" stroke="#ff0000" stroke-width="1"/>
<rect x="836.5" y="568.5" width="5" height="32" fill="#fff" stroke="#ff0000" stroke-width="1"/>
<rect x="843.5" y="571.5" width="5" height="29" fill="#fff" stroke="#ff0000" stroke-width="1"/>
<rect x="850.5" y="570.5" width="5" height="30" fill="#fff" stroke="#ff0000" stroke-width="1"/>
<rect x="857" y="570" width="6" height="30" fill="#008000"/>
<rect x="864.5" y="564.5" width="5" height="36" fill="#fff" stroke="#ff0000" stroke-width="1"/>
<rect x="871.5" y="564.5" width="5" height="36" fill="#fff" stroke="#ff0000" stroke-width="1"/>
<rect x="878.5" y="560.5" width="5" height="40" fill="#fff" stroke="#ff0000" stroke-width="1"/>
<rect x="885" y="557" width="6" height="43" fill="#008000"/>
<rect x="892.5" y="565.5" width="5" height="35" fill="#fff" stroke="#ff0000" stroke-width="1"/>
<rect x="899" y="563" width="6" height="37" fill="#008000"/>
<rect x="906" y="566" width="6" height="34" fill="#008000"/>
<rect x="913.5" y="563.5" width="5" height="37" fill="#fff" stroke="#ff0000" stroke-width="1"/>
<rect x="920" y="566" width="6" height="34" fill="#008000"/>
<rect x="927.5" y="566.5" width="5" height="34" fill="#fff" stroke="#ff0000" stroke-width="1"/>
<rect x="934.5" y="559.5" width="5" height="41" fill="#fff" stroke="#ff0000" stroke-width="1"/>
<rect x="941.5" y="562.5" width="5" height="38" fill="#fff" stroke="#ff0000" stroke-width="1"/>
<rect x="948.5" y="556.5" width="5" height="44" fill="#fff" stroke="#ff0000" stroke-width="1"/>
<rect x="955.5" y="545.5" width="5" height="55" fill="#fff" stroke="#ff0000" stroke-width="1"/>
<rect x="962.5" y="543.5" width="5" height="57" fill="#fff" stroke="#ff0000" stroke-width="1"/>
<rect x="969.5" y="544.5" width="5" height="56" fill="#fff" stroke="#ff0000" stroke-width="1"/>
<rect x="976.5" y="546.5" width="5" height="54" fill="#fff" stroke="#ff0000" stroke-width="1"/>
<rect x="983.5" y="544.5" width="5" height="56" fill="#fff" stroke="#ff0000" stroke-width="1"/>
<rect x="990" y="535" width="6" height="65" fill="#008000"/>
<rect x="997" y="545" width="6" height="55" fill="#008000"/>
<rect x="1004.5" y="548.5" width="5" height="52" fill="#fff" stroke="#ff0000" stroke-width="1"/>
</g>
<g shape-rendering="crispEdges" fill="none" stroke="#0000ff" stroke-width="1">
<polyline points="55.5,472.5 75.5,466.5"/>
<polyline points="993,187.5 996,187.5 1012,193.5"/>
</g>
<line x1="1011" y1="193.5" x2="1218" y2="193.5" stroke="#808080" stroke-width="1" stroke-dasharray="5 2" shape-rendering="crispEdges"/>
<text x="75.5" y="470" fill="#1414ff" stroke="#1414ff" stroke-width="0.25" style="font-family:'DejaVu Sans',sans-serif;font-size:11px" textLength="58.5" lengthAdjust="spacingAndGlyphs">2193.2600</text>
<text x="1014" y="202.7" fill="#1414ff" stroke="#1414ff" stroke-width="0.25" style="font-family:'DejaVu Sans',sans-serif;font-size:11px" textLength="58" lengthAdjust="spacingAndGlyphs">3715.8701</text>
<text y="146" fill="#0000ff"><tspan x="-13.6">日</tspan><tspan x="-2.2" class="ss" style="font-size:12px">K</tspan><tspan x="4.4">线</tspan></text>
<text x="53" y="152.6" fill="#000" style="font-size:13px" textLength="50.2" lengthAdjust="spacingAndGlyphs">极反通道</text>
<text x="121.5" y="154.5" fill="#ff0000">关注线</text>
<text class="hn" x="158.9" y="154.8" fill="#ff0000" textLength="38.1" lengthAdjust="spacingAndGlyphs">=2348.4</text>
<text x="201" y="154.5" fill="#008080">出局线</text>
<text class="hn" x="237.2" y="154.8" fill="#008080" textLength="37.6" lengthAdjust="spacingAndGlyphs">=2332.1</text>
<text class="hn" x="280.7" y="154.8" fill="#000" textLength="37.7" lengthAdjust="spacingAndGlyphs">=0.0000</text>
<text class="hn" x="359.5" y="154.8" fill="#000" textLength="37.7" lengthAdjust="spacingAndGlyphs">=0.0000</text>
<text class="hn" x="438.3" y="154.8" fill="#000" textLength="37.7" lengthAdjust="spacingAndGlyphs">=0.0000</text>
<text class="ss" x="1122.3" y="153.2" fill="#0000ff" style="font-size:13px" textLength="38.8" lengthAdjust="spacingAndGlyphs">1A0001</text>
<text x="1170.3" y="153.3" fill="#0000ff" style="font-size:13px">上证指数</text>
<text class="ss" x="1.4" y="521.5" fill="#303030" textLength="48" lengthAdjust="spacingAndGlyphs">915.0132</text>
<text class="ss" x="-4.6" y="545.5" fill="#303030" textLength="54" lengthAdjust="spacingAndGlyphs">561453399</text>
<text class="ss" x="-4.6" y="561.5" fill="#303030" textLength="54" lengthAdjust="spacingAndGlyphs">874302266</text>
<text class="ss" x="1.4" y="577.5" fill="#303030" textLength="48" lengthAdjust="spacingAndGlyphs">87151133</text>
</svg></body></html>
